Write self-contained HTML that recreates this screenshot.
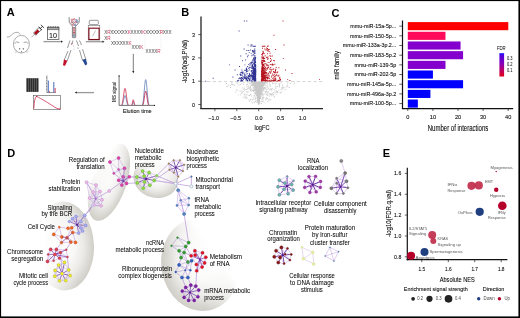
<!DOCTYPE html><html><head><meta charset="utf-8"><style>html,body{margin:0;padding:0;background:#fff;width:520px;height:318px;overflow:hidden}svg{display:block;will-change:transform}text{font-family:"Liberation Sans",sans-serif}</style></head><body>
<svg width="520" height="318" viewBox="0 0 520 318">
<defs><linearGradient id="fdr" x1="0" y1="0" x2="0" y2="1"><stop offset="0" stop-color="#1010ff"/><stop offset="0.1" stop-color="#5000e0"/><stop offset="0.45" stop-color="#8800b8"/><stop offset="0.8" stop-color="#c80050"/><stop offset="1" stop-color="#e00018"/></linearGradient>
<filter id="bl4" x="-50%" y="-50%" width="200%" height="200%"><feGaussianBlur stdDeviation="4"/></filter>
<filter id="bl5" x="-50%" y="-50%" width="200%" height="200%"><feGaussianBlur stdDeviation="5"/></filter>
<filter id="bl6" x="-50%" y="-50%" width="200%" height="200%"><feGaussianBlur stdDeviation="6"/></filter>
<filter id="bl7" x="-50%" y="-50%" width="200%" height="200%"><feGaussianBlur stdDeviation="7"/></filter>
<filter id="bl8" x="-50%" y="-50%" width="200%" height="200%"><feGaussianBlur stdDeviation="8"/></filter>
</defs>
<rect width="520" height="318" fill="#fff"/>
<defs><radialGradient id="rgL" cx="0.5" cy="0.5" r="0.5"><stop offset="0" stop-color="#d0cec7" stop-opacity="0.06"/><stop offset="0.35" stop-color="#d0cec7" stop-opacity="0.16"/><stop offset="0.65" stop-color="#d0cec7" stop-opacity="0.42"/><stop offset="0.88" stop-color="#d0cec7" stop-opacity="0.8"/><stop offset="1" stop-color="#d0cec7" stop-opacity="1"/></radialGradient><linearGradient id="lgL" x1="0.002" y1="0.456" x2="0.998" y2="0.544"><stop offset="0.22" stop-color="#000"/><stop offset="0.7" stop-color="#fff"/></linearGradient><mask id="mkL" maskContentUnits="objectBoundingBox"><rect x="-0.1" y="-0.1" width="1.2" height="1.2" fill="url(#lgL)"/></mask></defs>
<g transform="translate(64 246) rotate(-2)"><ellipse cx="0" cy="0" rx="30" ry="44.5" fill="url(#rgL)" mask="url(#mkL)"/></g>
<defs><radialGradient id="rgU" cx="0.5" cy="0.5" r="0.5"><stop offset="0" stop-color="#d0cec7" stop-opacity="0.1"/><stop offset="0.35" stop-color="#d0cec7" stop-opacity="0.2"/><stop offset="0.65" stop-color="#d0cec7" stop-opacity="0.45"/><stop offset="0.88" stop-color="#d0cec7" stop-opacity="0.82"/><stop offset="1" stop-color="#d0cec7" stop-opacity="1"/></radialGradient><linearGradient id="lgU" x1="0.106" y1="0.192" x2="0.894" y2="0.808"><stop offset="0.15" stop-color="#000"/><stop offset="0.6" stop-color="#fff"/></linearGradient><mask id="mkU" maskContentUnits="objectBoundingBox"><rect x="-0.1" y="-0.1" width="1.2" height="1.2" fill="url(#lgU)"/></mask></defs>
<g transform="translate(108.9 182.1) rotate(19)"><ellipse cx="0" cy="0" rx="17.5" ry="40.5" fill="url(#rgU)" mask="url(#mkU)"/></g>
<defs><radialGradient id="rgN" cx="0.5" cy="0.5" r="0.5"><stop offset="0" stop-color="#d0cec7" stop-opacity="0.08"/><stop offset="0.35" stop-color="#d0cec7" stop-opacity="0.18"/><stop offset="0.65" stop-color="#d0cec7" stop-opacity="0.45"/><stop offset="0.88" stop-color="#d0cec7" stop-opacity="0.82"/><stop offset="1" stop-color="#d0cec7" stop-opacity="1"/></radialGradient><linearGradient id="lgN" x1="0.500" y1="0.000" x2="0.500" y2="1.000"><stop offset="0.1" stop-color="#000"/><stop offset="0.6" stop-color="#fff"/></linearGradient><mask id="mkN" maskContentUnits="objectBoundingBox"><rect x="-0.1" y="-0.1" width="1.2" height="1.2" fill="url(#lgN)"/></mask></defs>
<g transform="translate(155.8 178.7) rotate(15)"><ellipse cx="0" cy="0" rx="22.7" ry="19" fill="url(#rgN)" mask="url(#mkN)"/></g>
<defs><radialGradient id="rgB" cx="0.5" cy="0.5" r="0.5"><stop offset="0" stop-color="#d0cec7" stop-opacity="0.06"/><stop offset="0.35" stop-color="#d0cec7" stop-opacity="0.16"/><stop offset="0.65" stop-color="#d0cec7" stop-opacity="0.45"/><stop offset="0.88" stop-color="#d0cec7" stop-opacity="0.85"/><stop offset="1" stop-color="#d0cec7" stop-opacity="1"/></radialGradient><linearGradient id="lgB" x1="0.933" y1="0.250" x2="0.067" y2="0.750"><stop offset="0.3" stop-color="#000"/><stop offset="0.72" stop-color="#fff"/></linearGradient><mask id="mkB" maskContentUnits="objectBoundingBox"><rect x="-0.1" y="-0.1" width="1.2" height="1.2" fill="url(#lgB)"/></mask></defs>
<g transform="translate(200.5 264.6) rotate(-9.6)"><ellipse cx="0" cy="0" rx="39.2" ry="46.5" fill="url(#rgB)" mask="url(#mkB)"/></g>
<path d="M123.4 180.8L109.2 191M109.2 191L95.6 198.7M95.6 198.7L90 210M90 210L84.7 215.5M92.4 205.5L84.7 215.5M101.1 205.8L92.4 205.5M129.3 176.8L136.9 177M126.5 183.4L137.3 182.9M156.7 175.7L168.8 163.6M154.2 180.4L169.4 169.8M156.7 175.7L175.7 183.7M154.2 180.4L175.7 183.7M175.7 183.7L178.2 190.3M175.7 183.7L191.4 186.4M175.7 183.7L191.4 176.6M191.4 176.6L191.4 186.4M178.2 176.6L175.7 183.7M184.1 213.9L188.6 242.6M77 224.8L71.7 227.8M72.8 232.5L78.7 233M70.8 242.1L66.2 249.8M61.5 242.6L56.4 249.4M59.5 258.2L64.5 262.4M67.4 257L68.7 269.9M60.5 252.5L62 273.7M187.9 262L191.6 260.7M184.1 252.5L191.1 255.7M181.1 257.6L179.1 264.9M187.9 277.5L190.8 285.1M182 277.5L185.7 287.4M196.7 270.8L195.8 286.1M185.7 246.4L191.1 255.7M187.9 262L185.3 270.2" stroke="#9a6ac8" stroke-width="0.5" fill="none"/>
<path d="M129.3 176.8L175.7 183.7" stroke="#c8a8e0" stroke-width="0.4" fill="none"/>
<path d="M123.2 176.8L129.3 176.8M118.7 180.2L126.5 183.4M129.3 176.8L118.7 180.2M123.2 176.8L126.5 183.4M121.8 185.1L126.5 183.4M123.2 176.8L121.8 185.1M129.3 176.8L126.5 183.4M118.7 180.2L121.8 185.1M123.2 176.8L118.7 180.2" stroke="#bd98e0" stroke-width="0.45" fill="none"/>
<path d="M123.4 180.8L123.2 176.8M123.4 180.8L129.3 176.8M123.4 180.8L118.7 180.2M123.4 180.8L121.8 185.1M123.4 180.8L126.5 183.4" stroke="#5e22a0" stroke-width="0.65" fill="none"/>
<circle cx="123.2" cy="176.8" r="2.15" fill="#fff" fill-opacity="0.6"/><circle cx="123.2" cy="176.8" r="1.55" fill="#e8409c" stroke="#9a3aa0" stroke-width="0.5"/>
<circle cx="129.3" cy="176.8" r="2.15" fill="#fff" fill-opacity="0.6"/><circle cx="129.3" cy="176.8" r="1.55" fill="#e8409c" stroke="#9a3aa0" stroke-width="0.5"/>
<circle cx="118.7" cy="180.2" r="2.15" fill="#fff" fill-opacity="0.6"/><circle cx="118.7" cy="180.2" r="1.55" fill="#e8409c" stroke="#9a3aa0" stroke-width="0.5"/>
<circle cx="121.8" cy="185.1" r="2.15" fill="#fff" fill-opacity="0.6"/><circle cx="121.8" cy="185.1" r="1.55" fill="#e8409c" stroke="#9a3aa0" stroke-width="0.5"/>
<circle cx="126.5" cy="183.4" r="2.15" fill="#fff" fill-opacity="0.6"/><circle cx="126.5" cy="183.4" r="1.55" fill="#e8409c" stroke="#9a3aa0" stroke-width="0.5"/>
<circle cx="123.4" cy="180.8" r="0.9" fill="#4a1a8a"/>
<path d="M118.6 158L110 162M124.5 168.3L113.8 173.3M118.6 169.5L113.8 173.3M118.6 158L118.6 169.5M110 162L113.8 173.3M124.5 168.3L118.6 169.5M118.6 158L124.5 168.3M110 162L118.6 169.5" stroke="#bd98e0" stroke-width="0.45" fill="none"/>
<circle cx="118.6" cy="158" r="2.15" fill="#fff" fill-opacity="0.6"/><circle cx="118.6" cy="158" r="1.55" fill="#e8409c" stroke="#9a3aa0" stroke-width="0.5"/>
<circle cx="110" cy="162" r="2.15" fill="#fff" fill-opacity="0.6"/><circle cx="110" cy="162" r="1.55" fill="#e8409c" stroke="#9a3aa0" stroke-width="0.5"/>
<circle cx="124.5" cy="168.3" r="2.15" fill="#fff" fill-opacity="0.6"/><circle cx="124.5" cy="168.3" r="1.55" fill="#e8409c" stroke="#9a3aa0" stroke-width="0.5"/>
<circle cx="118.6" cy="169.5" r="1.60" fill="#fff" fill-opacity="0.6"/><circle cx="118.6" cy="169.5" r="1.0" fill="#e8409c" stroke="#9a3aa0" stroke-width="0.5"/>
<circle cx="113.8" cy="173.3" r="1.70" fill="#fff" fill-opacity="0.6"/><circle cx="113.8" cy="173.3" r="1.1" fill="#e8409c" stroke="#9a3aa0" stroke-width="0.5"/>
<path d="M124.5 168.3L123.2 176.8M118.6 169.5L123.4 180.8M113.8 173.3L123.4 180.8M124.5 168.3L123.4 180.8" stroke="#a070c8" stroke-width="0.45" fill="none"/>
<path d="M86.6 182.2L96 185.1M93 192.1L89.7 198.1M96 185.1L93 192.1M86.6 182.2L89.7 198.1M100 191.5L89.7 198.1M89.7 198.1L94.1 205M102 199.8L101.1 205.8M93 192.1L100 191.5M94.1 205L101.1 205.8M86.6 182.2L93 192.1M102 199.8L94.1 205M96 185.1L100 191.5M89.7 198.1L101.1 205.8M100 191.5L102 199.8" stroke="#bd98e0" stroke-width="0.45" fill="none"/>
<path d="M95.6 198.7L86.6 182.2M95.6 198.7L96 185.1M95.6 198.7L93 192.1M95.6 198.7L100 191.5M95.6 198.7L89.7 198.1M95.6 198.7L102 199.8M95.6 198.7L94.1 205M95.6 198.7L101.1 205.8" stroke="#9a6ac8" stroke-width="0.45" fill="none"/>
<circle cx="86.6" cy="182.2" r="2.15" fill="#fff" fill-opacity="0.6"/><circle cx="86.6" cy="182.2" r="1.55" fill="#f4b8e0" stroke="#b08ad0" stroke-width="0.5"/>
<circle cx="96" cy="185.1" r="2.15" fill="#fff" fill-opacity="0.6"/><circle cx="96" cy="185.1" r="1.55" fill="#f4b8e0" stroke="#b08ad0" stroke-width="0.5"/>
<circle cx="93" cy="192.1" r="2.15" fill="#fff" fill-opacity="0.6"/><circle cx="93" cy="192.1" r="1.55" fill="#f4b8e0" stroke="#b08ad0" stroke-width="0.5"/>
<circle cx="100" cy="191.5" r="2.15" fill="#fff" fill-opacity="0.6"/><circle cx="100" cy="191.5" r="1.55" fill="#f4b8e0" stroke="#b08ad0" stroke-width="0.5"/>
<circle cx="89.7" cy="198.1" r="2.15" fill="#fff" fill-opacity="0.6"/><circle cx="89.7" cy="198.1" r="1.55" fill="#f4b8e0" stroke="#b08ad0" stroke-width="0.5"/>
<circle cx="102" cy="199.8" r="2.15" fill="#fff" fill-opacity="0.6"/><circle cx="102" cy="199.8" r="1.55" fill="#f4b8e0" stroke="#b08ad0" stroke-width="0.5"/>
<circle cx="94.1" cy="205" r="2.15" fill="#fff" fill-opacity="0.6"/><circle cx="94.1" cy="205" r="1.55" fill="#f4b8e0" stroke="#b08ad0" stroke-width="0.5"/>
<circle cx="101.1" cy="205.8" r="2.15" fill="#fff" fill-opacity="0.6"/><circle cx="101.1" cy="205.8" r="1.55" fill="#f4b8e0" stroke="#b08ad0" stroke-width="0.5"/>
<circle cx="95.6" cy="198.7" r="0.9" fill="#9a6ac8"/>
<circle cx="109.2" cy="191" r="2.10" fill="#fff" fill-opacity="0.6"/><circle cx="109.2" cy="191" r="1.5" fill="#f4b8e0" stroke="#b08ad0" stroke-width="0.5"/>
<circle cx="92.4" cy="205.5" r="1.80" fill="#fff" fill-opacity="0.6"/><circle cx="92.4" cy="205.5" r="1.2" fill="#dcd0f4" stroke="#9090d0" stroke-width="0.5"/>
<path d="M76 216.6L72.6 218.8M80.9 221.5L81 228M72.6 218.8L69.3 221.5M76 216.6L84.7 215.5M80.9 221.5L84.7 215.5M85.8 225.4L81 228M82.5 230.9L81 228M76 216.6L80.9 221.5M85.8 225.4L78.7 233M69.3 221.5L80.9 221.5M82.5 230.9L78.7 233M76 216.6L69.3 221.5M84.7 215.5L85.8 225.4M85.8 225.4L82.5 230.9M78.7 233L81 228M72.6 218.8L80.9 221.5M80.9 221.5L85.8 225.4" stroke="#bd98e0" stroke-width="0.45" fill="none"/>
<path d="M77 224.8L76 216.6M77 224.8L72.6 218.8M77 224.8L69.3 221.5M77 224.8L80.9 221.5M77 224.8L84.7 215.5M77 224.8L85.8 225.4M77 224.8L82.5 230.9M77 224.8L78.7 233M77 224.8L81 228" stroke="#5e22a0" stroke-width="0.6" fill="none"/>
<circle cx="76" cy="216.6" r="2.15" fill="#fff" fill-opacity="0.6"/><circle cx="76" cy="216.6" r="1.55" fill="#a8b0f0" stroke="#7070c0" stroke-width="0.5"/>
<circle cx="72.6" cy="218.8" r="2.15" fill="#fff" fill-opacity="0.6"/><circle cx="72.6" cy="218.8" r="1.55" fill="#a8b0f0" stroke="#7070c0" stroke-width="0.5"/>
<circle cx="69.3" cy="221.5" r="1.80" fill="#fff" fill-opacity="0.6"/><circle cx="69.3" cy="221.5" r="1.2" fill="#a8b0f0" stroke="#7070c0" stroke-width="0.5"/>
<circle cx="80.9" cy="221.5" r="2.15" fill="#fff" fill-opacity="0.6"/><circle cx="80.9" cy="221.5" r="1.55" fill="#a8b0f0" stroke="#7070c0" stroke-width="0.5"/>
<circle cx="84.7" cy="215.5" r="2.15" fill="#fff" fill-opacity="0.6"/><circle cx="84.7" cy="215.5" r="1.55" fill="#a8b0f0" stroke="#7070c0" stroke-width="0.5"/>
<circle cx="85.8" cy="225.4" r="2.15" fill="#fff" fill-opacity="0.6"/><circle cx="85.8" cy="225.4" r="1.55" fill="#a8b0f0" stroke="#7070c0" stroke-width="0.5"/>
<circle cx="82.5" cy="230.9" r="2.15" fill="#fff" fill-opacity="0.6"/><circle cx="82.5" cy="230.9" r="1.55" fill="#a8b0f0" stroke="#7070c0" stroke-width="0.5"/>
<circle cx="78.7" cy="233" r="2.15" fill="#fff" fill-opacity="0.6"/><circle cx="78.7" cy="233" r="1.55" fill="#a8b0f0" stroke="#7070c0" stroke-width="0.5"/>
<circle cx="81" cy="228" r="2.15" fill="#fff" fill-opacity="0.6"/><circle cx="81" cy="228" r="1.55" fill="#a8b0f0" stroke="#7070c0" stroke-width="0.5"/>
<circle cx="77" cy="224.8" r="0.9" fill="#4a1a8a"/>
<path d="M59.3 227.2L53.8 234.4M68.1 228.3L72.8 232.5M71.7 227.8L72.8 232.5M53.8 234.4L61.8 236.9M72.8 232.5L75.5 242.4M67 237.7L70.8 242.1M72.8 232.5L67 237.7M61.8 236.9L61.5 242.6M68.1 228.3L71.7 227.8M67 237.7L61.5 242.6M59.3 227.2L68.1 228.3M53.8 234.4L61.5 242.6M70.8 242.1L75.5 242.4M61.8 236.9L67 237.7M59.3 227.2L61.8 236.9M71.7 227.8L67 237.7M67 237.7L75.5 242.4M61.5 242.6L70.8 242.1" stroke="#b080d8" stroke-width="0.45" fill="none"/>
<circle cx="59.3" cy="227.2" r="1.60" fill="#fff" fill-opacity="0.6"/><circle cx="59.3" cy="227.2" r="1.0" fill="#f06a20" stroke="#c05030" stroke-width="0.5"/>
<circle cx="53.8" cy="234.4" r="2.15" fill="#fff" fill-opacity="0.6"/><circle cx="53.8" cy="234.4" r="1.55" fill="#f06a20" stroke="#c05030" stroke-width="0.5"/>
<circle cx="68.1" cy="228.3" r="2.15" fill="#fff" fill-opacity="0.6"/><circle cx="68.1" cy="228.3" r="1.55" fill="#f06a20" stroke="#c05030" stroke-width="0.5"/>
<circle cx="71.7" cy="227.8" r="2.15" fill="#fff" fill-opacity="0.6"/><circle cx="71.7" cy="227.8" r="1.55" fill="#f06a20" stroke="#c05030" stroke-width="0.5"/>
<circle cx="72.8" cy="232.5" r="2.15" fill="#fff" fill-opacity="0.6"/><circle cx="72.8" cy="232.5" r="1.55" fill="#f06a20" stroke="#c05030" stroke-width="0.5"/>
<circle cx="61.8" cy="236.9" r="2.15" fill="#fff" fill-opacity="0.6"/><circle cx="61.8" cy="236.9" r="1.55" fill="#f06a20" stroke="#c05030" stroke-width="0.5"/>
<circle cx="67" cy="237.7" r="2.15" fill="#fff" fill-opacity="0.6"/><circle cx="67" cy="237.7" r="1.55" fill="#f06a20" stroke="#c05030" stroke-width="0.5"/>
<circle cx="61.5" cy="242.6" r="2.00" fill="#fff" fill-opacity="0.6"/><circle cx="61.5" cy="242.6" r="1.4" fill="#f06a20" stroke="#c05030" stroke-width="0.5"/>
<circle cx="70.8" cy="242.1" r="2.15" fill="#fff" fill-opacity="0.6"/><circle cx="70.8" cy="242.1" r="1.55" fill="#f06a20" stroke="#c05030" stroke-width="0.5"/>
<circle cx="75.5" cy="242.4" r="2.15" fill="#fff" fill-opacity="0.6"/><circle cx="75.5" cy="242.4" r="1.55" fill="#f06a20" stroke="#c05030" stroke-width="0.5"/>
<path d="M67 237.7L61.8 236.9M67 237.7L72.8 232.5M67 237.7L70.8 242.1M67 237.7L61.5 242.6" stroke="#6a2aa0" stroke-width="0.5" fill="none"/>
<path d="M50.7 249.4L56.4 249.4M56.4 249.4L60.5 252.5M50.7 249.4L48.2 254.4M60.5 252.5L66.2 249.8M59.5 258.2L53.6 260.7M50.7 249.4L60.5 252.5M60.5 252.5L59.5 258.2M67.4 257L59.5 258.2M48.2 254.4L47.5 261.4M53.6 260.7L47.5 261.4M56.4 249.4L59.5 258.2M50.7 249.4L47.5 261.4M60.5 252.5L67.4 257M56.4 249.4L66.2 249.8M48.2 254.4L53.6 260.7M66.2 249.8L67.4 257" stroke="#bd98e0" stroke-width="0.45" fill="none"/>
<path d="M54.8 254.4L50.7 249.4M54.8 254.4L56.4 249.4M54.8 254.4L60.5 252.5M54.8 254.4L66.2 249.8M54.8 254.4L48.2 254.4M54.8 254.4L67.4 257M54.8 254.4L59.5 258.2M54.8 254.4L53.6 260.7M54.8 254.4L47.5 261.4" stroke="#5e22a0" stroke-width="0.65" fill="none"/>
<circle cx="50.7" cy="249.4" r="2.15" fill="#fff" fill-opacity="0.6"/><circle cx="50.7" cy="249.4" r="1.55" fill="#e04048" stroke="#a03060" stroke-width="0.5"/>
<circle cx="56.4" cy="249.4" r="2.15" fill="#fff" fill-opacity="0.6"/><circle cx="56.4" cy="249.4" r="1.55" fill="#e04048" stroke="#a03060" stroke-width="0.5"/>
<circle cx="60.5" cy="252.5" r="2.10" fill="#fff" fill-opacity="0.6"/><circle cx="60.5" cy="252.5" r="1.5" fill="#e04048" stroke="#a03060" stroke-width="0.5"/>
<circle cx="66.2" cy="249.8" r="1.60" fill="#fff" fill-opacity="0.6"/><circle cx="66.2" cy="249.8" r="1.0" fill="#e04048" stroke="#a03060" stroke-width="0.5"/>
<circle cx="48.2" cy="254.4" r="1.60" fill="#fff" fill-opacity="0.6"/><circle cx="48.2" cy="254.4" r="1.0" fill="#e04048" stroke="#a03060" stroke-width="0.5"/>
<circle cx="67.4" cy="257" r="1.60" fill="#fff" fill-opacity="0.6"/><circle cx="67.4" cy="257" r="1.0" fill="#e04048" stroke="#a03060" stroke-width="0.5"/>
<circle cx="59.5" cy="258.2" r="2.00" fill="#fff" fill-opacity="0.6"/><circle cx="59.5" cy="258.2" r="1.4" fill="#e04048" stroke="#a03060" stroke-width="0.5"/>
<circle cx="53.6" cy="260.7" r="1.60" fill="#fff" fill-opacity="0.6"/><circle cx="53.6" cy="260.7" r="1.0" fill="#e04048" stroke="#a03060" stroke-width="0.5"/>
<circle cx="47.5" cy="261.4" r="2.15" fill="#fff" fill-opacity="0.6"/><circle cx="47.5" cy="261.4" r="1.55" fill="#e04048" stroke="#a03060" stroke-width="0.5"/>
<circle cx="54.8" cy="254.4" r="1.6" fill="#e04048"/>
<path d="M64.5 262.4L58.6 265.1M55.1 270.4L54.8 276.2M58.6 265.1L55.1 270.4M68.7 269.9L65.8 280.5M64.5 262.4L68.7 269.9M54.8 276.2L59.5 280.8M58.6 265.1L54.8 276.2M70.2 275.6L65.8 280.5M59.5 280.8L65.8 280.5M64.5 262.4L55.1 270.4M55.1 270.4L59.5 280.8M70.2 275.6L59.5 280.8M58.6 265.1L68.7 269.9M68.7 269.9L70.2 275.6" stroke="#bd98e0" stroke-width="0.45" fill="none"/>
<path d="M62 273.7L64.5 262.4M62 273.7L58.6 265.1M62 273.7L55.1 270.4M62 273.7L68.7 269.9M62 273.7L54.8 276.2M62 273.7L70.2 275.6M62 273.7L59.5 280.8M62 273.7L65.8 280.5" stroke="#5e22a0" stroke-width="0.65" fill="none"/>
<circle cx="64.5" cy="262.4" r="2.15" fill="#fff" fill-opacity="0.6"/><circle cx="64.5" cy="262.4" r="1.55" fill="#f2f022" stroke="#a0a040" stroke-width="0.5"/>
<circle cx="58.6" cy="265.1" r="2.15" fill="#fff" fill-opacity="0.6"/><circle cx="58.6" cy="265.1" r="1.55" fill="#f2f022" stroke="#a0a040" stroke-width="0.5"/>
<circle cx="55.1" cy="270.4" r="2.15" fill="#fff" fill-opacity="0.6"/><circle cx="55.1" cy="270.4" r="1.55" fill="#f2f022" stroke="#a0a040" stroke-width="0.5"/>
<circle cx="68.7" cy="269.9" r="2.15" fill="#fff" fill-opacity="0.6"/><circle cx="68.7" cy="269.9" r="1.55" fill="#f2f022" stroke="#a0a040" stroke-width="0.5"/>
<circle cx="54.8" cy="276.2" r="2.15" fill="#fff" fill-opacity="0.6"/><circle cx="54.8" cy="276.2" r="1.55" fill="#f2f022" stroke="#a0a040" stroke-width="0.5"/>
<circle cx="70.2" cy="275.6" r="2.15" fill="#fff" fill-opacity="0.6"/><circle cx="70.2" cy="275.6" r="1.55" fill="#f2f022" stroke="#a0a040" stroke-width="0.5"/>
<circle cx="59.5" cy="280.8" r="2.15" fill="#fff" fill-opacity="0.6"/><circle cx="59.5" cy="280.8" r="1.55" fill="#f2f022" stroke="#a0a040" stroke-width="0.5"/>
<circle cx="65.8" cy="280.5" r="2.15" fill="#fff" fill-opacity="0.6"/><circle cx="65.8" cy="280.5" r="1.55" fill="#f2f022" stroke="#a0a040" stroke-width="0.5"/>
<circle cx="62" cy="273.7" r="1.6" fill="#f2f022"/>
<path d="M142.6 171.1L149.1 172.6M144.5 182L143.2 188.3M144.5 182L149.9 185.2M142.6 171.1L144.1 176.1M149.1 172.6L156.7 175.7M136.9 177L144.1 176.1M142.6 171.1L136.9 177M149.1 172.6L154.2 180.4M149.9 185.2L143.2 188.3M137.3 182.9L144.5 182M156.7 175.7L149.9 185.2M144.1 176.1L144.5 182M137.3 182.9L143.2 188.3M136.9 177L137.3 182.9M149.1 172.6L144.1 176.1M156.7 175.7L154.2 180.4M154.2 180.4L149.9 185.2" stroke="#bd98e0" stroke-width="0.45" fill="none"/>
<path d="M146.1 178.9L142.6 171.1M146.1 178.9L149.1 172.6M146.1 178.9L136.9 177M146.1 178.9L144.1 176.1M146.1 178.9L156.7 175.7M146.1 178.9L137.3 182.9M146.1 178.9L144.5 182M146.1 178.9L154.2 180.4M146.1 178.9L149.9 185.2M146.1 178.9L143.2 188.3" stroke="#5e22a0" stroke-width="0.65" fill="none"/>
<circle cx="142.6" cy="171.1" r="2.15" fill="#fff" fill-opacity="0.6"/><circle cx="142.6" cy="171.1" r="1.55" fill="#90e040" stroke="#5a9a30" stroke-width="0.5"/>
<circle cx="149.1" cy="172.6" r="2.15" fill="#fff" fill-opacity="0.6"/><circle cx="149.1" cy="172.6" r="1.55" fill="#90e040" stroke="#5a9a30" stroke-width="0.5"/>
<circle cx="136.9" cy="177" r="2.15" fill="#fff" fill-opacity="0.6"/><circle cx="136.9" cy="177" r="1.55" fill="#90e040" stroke="#5a9a30" stroke-width="0.5"/>
<circle cx="144.1" cy="176.1" r="2.15" fill="#fff" fill-opacity="0.6"/><circle cx="144.1" cy="176.1" r="1.55" fill="#90e040" stroke="#5a9a30" stroke-width="0.5"/>
<circle cx="156.7" cy="175.7" r="1.70" fill="#fff" fill-opacity="0.6"/><circle cx="156.7" cy="175.7" r="1.1" fill="#90e040" stroke="#5a9a30" stroke-width="0.5"/>
<circle cx="137.3" cy="182.9" r="2.15" fill="#fff" fill-opacity="0.6"/><circle cx="137.3" cy="182.9" r="1.55" fill="#90e040" stroke="#5a9a30" stroke-width="0.5"/>
<circle cx="144.5" cy="182" r="2.15" fill="#fff" fill-opacity="0.6"/><circle cx="144.5" cy="182" r="1.55" fill="#90e040" stroke="#5a9a30" stroke-width="0.5"/>
<circle cx="154.2" cy="180.4" r="2.15" fill="#fff" fill-opacity="0.6"/><circle cx="154.2" cy="180.4" r="1.55" fill="#90e040" stroke="#5a9a30" stroke-width="0.5"/>
<circle cx="149.9" cy="185.2" r="2.15" fill="#fff" fill-opacity="0.6"/><circle cx="149.9" cy="185.2" r="1.55" fill="#90e040" stroke="#5a9a30" stroke-width="0.5"/>
<circle cx="143.2" cy="188.3" r="2.15" fill="#fff" fill-opacity="0.6"/><circle cx="143.2" cy="188.3" r="1.55" fill="#90e040" stroke="#5a9a30" stroke-width="0.5"/>
<circle cx="146.1" cy="178.9" r="0.9" fill="#4a1a8a"/>
<path d="M173.6 160.3L179.9 160.3M168.8 163.6L169.4 169.8M173.6 160.3L169.4 169.8M168.8 163.6L173.8 172.6M179.9 160.3L182.9 171.1M173.6 160.3L184.2 164.8M169.4 169.8L178.2 176.6M182.9 171.1L173.8 172.6M178.2 176.6L173.8 172.6M173.6 160.3L168.8 163.6M182.9 171.1L178.2 176.6M179.9 160.3L184.2 164.8M169.4 169.8L173.8 172.6M184.2 164.8L182.9 171.1" stroke="#bd98e0" stroke-width="0.45" fill="none"/>
<path d="M175.7 167.6L173.6 160.3M175.7 167.6L179.9 160.3M175.7 167.6L168.8 163.6M175.7 167.6L184.2 164.8M175.7 167.6L169.4 169.8M175.7 167.6L182.9 171.1M175.7 167.6L178.2 176.6M175.7 167.6L173.8 172.6" stroke="#5a2a9a" stroke-width="0.75" fill="none"/>
<circle cx="173.6" cy="160.3" r="1.40" fill="#fff" fill-opacity="0.6"/><circle cx="173.6" cy="160.3" r="0.8" fill="#b09060" stroke="#806040" stroke-width="0.5"/>
<circle cx="179.9" cy="160.3" r="1.40" fill="#fff" fill-opacity="0.6"/><circle cx="179.9" cy="160.3" r="0.8" fill="#b09060" stroke="#806040" stroke-width="0.5"/>
<circle cx="168.8" cy="163.6" r="1.40" fill="#fff" fill-opacity="0.6"/><circle cx="168.8" cy="163.6" r="0.8" fill="#b09060" stroke="#806040" stroke-width="0.5"/>
<circle cx="184.2" cy="164.8" r="1.40" fill="#fff" fill-opacity="0.6"/><circle cx="184.2" cy="164.8" r="0.8" fill="#b09060" stroke="#806040" stroke-width="0.5"/>
<circle cx="169.4" cy="169.8" r="1.40" fill="#fff" fill-opacity="0.6"/><circle cx="169.4" cy="169.8" r="0.8" fill="#b09060" stroke="#806040" stroke-width="0.5"/>
<circle cx="182.9" cy="171.1" r="1.40" fill="#fff" fill-opacity="0.6"/><circle cx="182.9" cy="171.1" r="0.8" fill="#b09060" stroke="#806040" stroke-width="0.5"/>
<circle cx="178.2" cy="176.6" r="1.40" fill="#fff" fill-opacity="0.6"/><circle cx="178.2" cy="176.6" r="0.8" fill="#b09060" stroke="#806040" stroke-width="0.5"/>
<circle cx="173.8" cy="172.6" r="1.40" fill="#fff" fill-opacity="0.6"/><circle cx="173.8" cy="172.6" r="0.8" fill="#b09060" stroke="#806040" stroke-width="0.5"/>
<circle cx="175.7" cy="167.6" r="0.9" fill="#4a1a8a"/>
<circle cx="175.7" cy="183.7" r="2.10" fill="#fff" fill-opacity="0.6"/><circle cx="175.7" cy="183.7" r="1.5" fill="#fff" stroke="#7090b0" stroke-width="0.5"/>
<circle cx="191.4" cy="186.4" r="2.10" fill="#fff" fill-opacity="0.6"/><circle cx="191.4" cy="186.4" r="1.5" fill="#fff" stroke="#7090b0" stroke-width="0.5"/>
<circle cx="191.4" cy="176.6" r="1.40" fill="#fff" fill-opacity="0.6"/><circle cx="191.4" cy="176.6" r="0.8" fill="#6090c8" stroke="#406090" stroke-width="0.5"/>
<path d="M178.2 190.3L188.9 198.2M180.7 200.3L188.6 205.1M188.9 198.2L180.7 200.3M177 205.4L188.6 205.1M178.2 190.3L177 205.4M188.9 198.2L188.6 205.1M180.7 200.3L177 205.4M178.2 190.3L180.7 200.3M188.6 205.1L184.1 213.9M180.7 200.3L184.1 213.9M177 205.4L184.1 213.9" stroke="#b890e0" stroke-width="0.45" fill="none"/>
<circle cx="178.2" cy="190.3" r="2.15" fill="#fff" fill-opacity="0.6"/><circle cx="178.2" cy="190.3" r="1.55" fill="#4a80c0" stroke="#30609a" stroke-width="0.5"/>
<circle cx="188.9" cy="198.2" r="1.60" fill="#fff" fill-opacity="0.6"/><circle cx="188.9" cy="198.2" r="1" fill="#4a80c0" stroke="#30609a" stroke-width="0.5"/>
<circle cx="180.7" cy="200.3" r="1.60" fill="#fff" fill-opacity="0.6"/><circle cx="180.7" cy="200.3" r="1" fill="#4a80c0" stroke="#30609a" stroke-width="0.5"/>
<circle cx="177" cy="205.4" r="1.60" fill="#fff" fill-opacity="0.6"/><circle cx="177" cy="205.4" r="1" fill="#4a80c0" stroke="#30609a" stroke-width="0.5"/>
<circle cx="188.6" cy="205.1" r="1.60" fill="#fff" fill-opacity="0.6"/><circle cx="188.6" cy="205.1" r="1" fill="#4a80c0" stroke="#30609a" stroke-width="0.5"/>
<circle cx="184.1" cy="213.9" r="2.15" fill="#fff" fill-opacity="0.6"/><circle cx="184.1" cy="213.9" r="1.55" fill="#4a80c0" stroke="#30609a" stroke-width="0.5"/>
<path d="M178.2 190.3L188.6 205.1M178.2 190.3L184.1 213.9M177 205.4L188.9 198.2M180.7 200.3L184.1 213.9" stroke="#b890e0" stroke-width="0.35" fill="none"/>
<path d="M177.5 237.6L171.5 245.8M185.7 246.4L179.1 250.8M177.5 237.6L185.7 246.4M179.1 250.8L181.1 257.6M171.5 245.8L179.1 250.8M184.1 252.5L187.9 262M188.6 242.6L185.7 246.4M181.1 257.6L187.9 262M177.5 237.6L188.6 242.6M179.1 250.8L184.1 252.5M184.1 252.5L181.1 257.6M188.6 242.6L184.1 252.5M171.5 245.8L185.7 246.4M179.1 250.8L187.9 262M185.7 246.4L184.1 252.5" stroke="#a080d0" stroke-width="0.45" fill="none"/>
<circle cx="177.5" cy="237.6" r="1.50" fill="#fff" fill-opacity="0.6"/><circle cx="177.5" cy="237.6" r="0.9" fill="#30a030" stroke="#207020" stroke-width="0.5"/>
<circle cx="171.5" cy="245.8" r="1.50" fill="#fff" fill-opacity="0.6"/><circle cx="171.5" cy="245.8" r="0.9" fill="#30a030" stroke="#207020" stroke-width="0.5"/>
<circle cx="188.6" cy="242.6" r="2.15" fill="#fff" fill-opacity="0.6"/><circle cx="188.6" cy="242.6" r="1.55" fill="#30a030" stroke="#207020" stroke-width="0.5"/>
<circle cx="185.7" cy="246.4" r="2.10" fill="#fff" fill-opacity="0.6"/><circle cx="185.7" cy="246.4" r="1.5" fill="#30a030" stroke="#207020" stroke-width="0.5"/>
<circle cx="179.1" cy="250.8" r="2.15" fill="#fff" fill-opacity="0.6"/><circle cx="179.1" cy="250.8" r="1.55" fill="#30a030" stroke="#207020" stroke-width="0.5"/>
<circle cx="184.1" cy="252.5" r="2.15" fill="#fff" fill-opacity="0.6"/><circle cx="184.1" cy="252.5" r="1.55" fill="#30a030" stroke="#207020" stroke-width="0.5"/>
<circle cx="181.1" cy="257.6" r="2.15" fill="#fff" fill-opacity="0.6"/><circle cx="181.1" cy="257.6" r="1.55" fill="#30a030" stroke="#207020" stroke-width="0.5"/>
<circle cx="187.9" cy="262" r="2.15" fill="#fff" fill-opacity="0.6"/><circle cx="187.9" cy="262" r="1.55" fill="#30a030" stroke="#207020" stroke-width="0.5"/>
<path d="M191.6 260.7L179.1 264.9M175.7 272L182 277.5M179.1 264.9L175.7 272M191.6 260.7L190.4 270.2M182 277.5L185.3 270.2M191.6 260.7L185.3 270.2M182 277.5L187.9 277.5M175.7 272L185.3 270.2M187.9 277.5L185.3 270.2M190.4 270.2L185.3 270.2M179.1 264.9L185.3 270.2M179.1 264.9L190.4 270.2M190.4 270.2L187.9 277.5" stroke="#a080d0" stroke-width="0.45" fill="none"/>
<circle cx="191.6" cy="260.7" r="2.15" fill="#fff" fill-opacity="0.6"/><circle cx="191.6" cy="260.7" r="1.55" fill="#3060c0" stroke="#204890" stroke-width="0.5"/>
<circle cx="179.1" cy="264.9" r="2.15" fill="#fff" fill-opacity="0.6"/><circle cx="179.1" cy="264.9" r="1.55" fill="#3060c0" stroke="#204890" stroke-width="0.5"/>
<circle cx="175.7" cy="272" r="1.50" fill="#fff" fill-opacity="0.6"/><circle cx="175.7" cy="272" r="0.9" fill="#3060c0" stroke="#204890" stroke-width="0.5"/>
<circle cx="190.4" cy="270.2" r="1.60" fill="#fff" fill-opacity="0.6"/><circle cx="190.4" cy="270.2" r="1" fill="#3060c0" stroke="#204890" stroke-width="0.5"/>
<circle cx="182" cy="277.5" r="2.15" fill="#fff" fill-opacity="0.6"/><circle cx="182" cy="277.5" r="1.55" fill="#3060c0" stroke="#204890" stroke-width="0.5"/>
<circle cx="187.9" cy="277.5" r="2.15" fill="#fff" fill-opacity="0.6"/><circle cx="187.9" cy="277.5" r="1.55" fill="#3060c0" stroke="#204890" stroke-width="0.5"/>
<circle cx="185.3" cy="270.2" r="1.40" fill="#fff" fill-opacity="0.6"/><circle cx="185.3" cy="270.2" r="0.8" fill="#3060c0" stroke="#204890" stroke-width="0.5"/>
<path d="M194.9 250.7L202.5 252.8M204.6 262.9L196.7 270.8M196.4 264.5L196.7 270.8M194.9 250.7L195.2 255.1M202.5 252.8L205.8 257.3M204.6 262.9L202.1 267M191.1 255.7L195.2 255.1M196.4 264.5L202.1 267M194.9 250.7L191.1 255.7M205.8 257.3L204.6 262.9M191.1 255.7L196.4 264.5M204.6 262.9L196.4 264.5M202.5 252.8L195.2 255.1M205.8 257.3L202.1 267M202.1 267L196.7 270.8" stroke="#bd98e0" stroke-width="0.45" fill="none"/>
<path d="M200 259.5L194.9 250.7M200 259.5L202.5 252.8M200 259.5L191.1 255.7M200 259.5L195.2 255.1M200 259.5L205.8 257.3M200 259.5L204.6 262.9M200 259.5L196.4 264.5M200 259.5L202.1 267M200 259.5L196.7 270.8" stroke="#5e22a0" stroke-width="0.65" fill="none"/>
<circle cx="194.9" cy="250.7" r="2.15" fill="#fff" fill-opacity="0.6"/><circle cx="194.9" cy="250.7" r="1.55" fill="#e81020" stroke="#a02040" stroke-width="0.5"/>
<circle cx="202.5" cy="252.8" r="2.15" fill="#fff" fill-opacity="0.6"/><circle cx="202.5" cy="252.8" r="1.55" fill="#e81020" stroke="#a02040" stroke-width="0.5"/>
<circle cx="191.1" cy="255.7" r="2.15" fill="#fff" fill-opacity="0.6"/><circle cx="191.1" cy="255.7" r="1.55" fill="#e81020" stroke="#a02040" stroke-width="0.5"/>
<circle cx="195.2" cy="255.1" r="2.15" fill="#fff" fill-opacity="0.6"/><circle cx="195.2" cy="255.1" r="1.55" fill="#e81020" stroke="#a02040" stroke-width="0.5"/>
<circle cx="205.8" cy="257.3" r="2.15" fill="#fff" fill-opacity="0.6"/><circle cx="205.8" cy="257.3" r="1.55" fill="#e81020" stroke="#a02040" stroke-width="0.5"/>
<circle cx="204.6" cy="262.9" r="2.15" fill="#fff" fill-opacity="0.6"/><circle cx="204.6" cy="262.9" r="1.55" fill="#e81020" stroke="#a02040" stroke-width="0.5"/>
<circle cx="196.4" cy="264.5" r="2.15" fill="#fff" fill-opacity="0.6"/><circle cx="196.4" cy="264.5" r="1.55" fill="#e81020" stroke="#a02040" stroke-width="0.5"/>
<circle cx="202.1" cy="267" r="2.15" fill="#fff" fill-opacity="0.6"/><circle cx="202.1" cy="267" r="1.55" fill="#e81020" stroke="#a02040" stroke-width="0.5"/>
<circle cx="196.7" cy="270.8" r="2.15" fill="#fff" fill-opacity="0.6"/><circle cx="196.7" cy="270.8" r="1.55" fill="#e81020" stroke="#a02040" stroke-width="0.5"/>
<circle cx="200" cy="259.5" r="0.9" fill="#6a2aa0"/>
<path d="M185.7 287.4L190.8 285.1M195.8 286.1L198.7 290.1M190.8 285.1L195.8 286.1M184.1 297.4L194.2 300.4M197.9 296.7L194.2 300.4M185.7 287.4L182.3 291.1M198.7 290.1L197.9 296.7M190.8 285.1L198.7 290.1M184.1 297.4L188.6 300.4M197.9 296.7L188.6 300.4M185.7 287.4L195.8 286.1M185.7 287.4L184.1 297.4M188.6 300.4L194.2 300.4M190.8 285.1L182.3 291.1M182.3 291.1L184.1 297.4" stroke="#bd98e0" stroke-width="0.45" fill="none"/>
<path d="M189.9 292.4L185.7 287.4M189.9 292.4L190.8 285.1M189.9 292.4L195.8 286.1M189.9 292.4L182.3 291.1M189.9 292.4L198.7 290.1M189.9 292.4L184.1 297.4M189.9 292.4L197.9 296.7M189.9 292.4L188.6 300.4M189.9 292.4L194.2 300.4" stroke="#5e22a0" stroke-width="0.65" fill="none"/>
<circle cx="185.7" cy="287.4" r="2.15" fill="#fff" fill-opacity="0.6"/><circle cx="185.7" cy="287.4" r="1.55" fill="#8020a8" stroke="#601880" stroke-width="0.5"/>
<circle cx="190.8" cy="285.1" r="2.15" fill="#fff" fill-opacity="0.6"/><circle cx="190.8" cy="285.1" r="1.55" fill="#8020a8" stroke="#601880" stroke-width="0.5"/>
<circle cx="195.8" cy="286.1" r="2.15" fill="#fff" fill-opacity="0.6"/><circle cx="195.8" cy="286.1" r="1.55" fill="#8020a8" stroke="#601880" stroke-width="0.5"/>
<circle cx="182.3" cy="291.1" r="2.15" fill="#fff" fill-opacity="0.6"/><circle cx="182.3" cy="291.1" r="1.55" fill="#8020a8" stroke="#601880" stroke-width="0.5"/>
<circle cx="198.7" cy="290.1" r="2.15" fill="#fff" fill-opacity="0.6"/><circle cx="198.7" cy="290.1" r="1.55" fill="#8020a8" stroke="#601880" stroke-width="0.5"/>
<circle cx="184.1" cy="297.4" r="2.15" fill="#fff" fill-opacity="0.6"/><circle cx="184.1" cy="297.4" r="1.55" fill="#8020a8" stroke="#601880" stroke-width="0.5"/>
<circle cx="197.9" cy="296.7" r="2.15" fill="#fff" fill-opacity="0.6"/><circle cx="197.9" cy="296.7" r="1.55" fill="#8020a8" stroke="#601880" stroke-width="0.5"/>
<circle cx="188.6" cy="300.4" r="2.15" fill="#fff" fill-opacity="0.6"/><circle cx="188.6" cy="300.4" r="1.55" fill="#8020a8" stroke="#601880" stroke-width="0.5"/>
<circle cx="194.2" cy="300.4" r="2.15" fill="#fff" fill-opacity="0.6"/><circle cx="194.2" cy="300.4" r="1.55" fill="#8020a8" stroke="#601880" stroke-width="0.5"/>
<circle cx="189.9" cy="292.4" r="0.9" fill="#5a1a8a"/>
<path d="M287.2 176.4L279.4 180.2M284.9 183L291.7 184.4M279.4 180.2L284.9 183M293.6 180.7L291.7 184.4M279.4 180.2L278 186.8M278 186.8L279.4 194.8M284 189.2L279.4 194.8M287.2 176.4L293.6 180.7M284.9 183L293.6 180.7M293.1 190.1L288.1 193.7M287.2 176.4L284.9 183M284 189.2L293.1 190.1M284.9 183L284 189.2M278 186.8L284 189.2M279.4 194.8L288.1 193.7M284.9 183L278 186.8M284 189.2L288.1 193.7M291.7 184.4L293.1 190.1" stroke="#bd98e0" stroke-width="0.45" fill="none"/>
<path d="M287 186.1L287.2 176.4M287 186.1L279.4 180.2M287 186.1L284.9 183M287 186.1L293.6 180.7M287 186.1L291.7 184.4M287 186.1L278 186.8M287 186.1L284 189.2M287 186.1L293.1 190.1M287 186.1L279.4 194.8M287 186.1L288.1 193.7" stroke="#5a1a9a" stroke-width="0.8" fill="none"/>
<circle cx="287.2" cy="176.4" r="1.50" fill="#fff" fill-opacity="0.6"/><circle cx="287.2" cy="176.4" r="0.9" fill="#60c8a0" stroke="#6a5aa0" stroke-width="0.5"/>
<circle cx="279.4" cy="180.2" r="2.10" fill="#fff" fill-opacity="0.6"/><circle cx="279.4" cy="180.2" r="1.5" fill="#60c8a0" stroke="#6a5aa0" stroke-width="0.5"/>
<circle cx="284.9" cy="183" r="2.10" fill="#fff" fill-opacity="0.6"/><circle cx="284.9" cy="183" r="1.5" fill="#60c8a0" stroke="#6a5aa0" stroke-width="0.5"/>
<circle cx="293.6" cy="180.7" r="1.50" fill="#fff" fill-opacity="0.6"/><circle cx="293.6" cy="180.7" r="0.9" fill="#60c8a0" stroke="#6a5aa0" stroke-width="0.5"/>
<circle cx="291.7" cy="184.4" r="2.10" fill="#fff" fill-opacity="0.6"/><circle cx="291.7" cy="184.4" r="1.5" fill="#60c8a0" stroke="#6a5aa0" stroke-width="0.5"/>
<circle cx="278" cy="186.8" r="2.10" fill="#fff" fill-opacity="0.6"/><circle cx="278" cy="186.8" r="1.5" fill="#60c8a0" stroke="#6a5aa0" stroke-width="0.5"/>
<circle cx="284" cy="189.2" r="2.10" fill="#fff" fill-opacity="0.6"/><circle cx="284" cy="189.2" r="1.5" fill="#60c8a0" stroke="#6a5aa0" stroke-width="0.5"/>
<circle cx="293.1" cy="190.1" r="2.10" fill="#fff" fill-opacity="0.6"/><circle cx="293.1" cy="190.1" r="1.5" fill="#60c8a0" stroke="#6a5aa0" stroke-width="0.5"/>
<circle cx="279.4" cy="194.8" r="2.10" fill="#fff" fill-opacity="0.6"/><circle cx="279.4" cy="194.8" r="1.5" fill="#60c8a0" stroke="#6a5aa0" stroke-width="0.5"/>
<circle cx="288.1" cy="193.7" r="2.10" fill="#fff" fill-opacity="0.6"/><circle cx="288.1" cy="193.7" r="1.5" fill="#60c8a0" stroke="#6a5aa0" stroke-width="0.5"/>
<circle cx="287" cy="186.1" r="0.9" fill="#4a1a8a"/>
<path d="M309 176.6L315.6 176.4M305.2 181.1L304.7 187.5M320.6 181.5L310.8 186.5M320.3 187.5L310.8 186.5M309.9 192.5L310.8 186.5M315.6 176.4L310.8 186.5M304.7 187.5L309.9 192.5M320.3 187.5L316.2 191.9M309.9 192.5L316.2 191.9M309 176.6L305.2 181.1M304.7 187.5L310.8 186.5M316.2 191.9L310.8 186.5M309 176.6L310.8 186.5M315.6 176.4L320.6 181.5M320.6 181.5L320.3 187.5M305.2 181.1L310.8 186.5" stroke="#bd98e0" stroke-width="0.45" fill="none"/>
<path d="M312.7 184.6L309 176.6M312.7 184.6L315.6 176.4M312.7 184.6L305.2 181.1M312.7 184.6L320.6 181.5M312.7 184.6L304.7 187.5M312.7 184.6L320.3 187.5M312.7 184.6L309.9 192.5M312.7 184.6L316.2 191.9M312.7 184.6L310.8 186.5" stroke="#5a1a9a" stroke-width="0.85" fill="none"/>
<circle cx="309" cy="176.6" r="2.00" fill="#fff" fill-opacity="0.6"/><circle cx="309" cy="176.6" r="1.4" fill="#a838a8" stroke="#7a2a8a" stroke-width="0.5"/>
<circle cx="315.6" cy="176.4" r="2.00" fill="#fff" fill-opacity="0.6"/><circle cx="315.6" cy="176.4" r="1.4" fill="#a838a8" stroke="#7a2a8a" stroke-width="0.5"/>
<circle cx="305.2" cy="181.1" r="2.00" fill="#fff" fill-opacity="0.6"/><circle cx="305.2" cy="181.1" r="1.4" fill="#a838a8" stroke="#7a2a8a" stroke-width="0.5"/>
<circle cx="320.6" cy="181.5" r="2.00" fill="#fff" fill-opacity="0.6"/><circle cx="320.6" cy="181.5" r="1.4" fill="#a838a8" stroke="#7a2a8a" stroke-width="0.5"/>
<circle cx="304.7" cy="187.5" r="2.00" fill="#fff" fill-opacity="0.6"/><circle cx="304.7" cy="187.5" r="1.4" fill="#a838a8" stroke="#7a2a8a" stroke-width="0.5"/>
<circle cx="320.3" cy="187.5" r="2.00" fill="#fff" fill-opacity="0.6"/><circle cx="320.3" cy="187.5" r="1.4" fill="#a838a8" stroke="#7a2a8a" stroke-width="0.5"/>
<circle cx="309.9" cy="192.5" r="2.00" fill="#fff" fill-opacity="0.6"/><circle cx="309.9" cy="192.5" r="1.4" fill="#a838a8" stroke="#7a2a8a" stroke-width="0.5"/>
<circle cx="316.2" cy="191.9" r="2.00" fill="#fff" fill-opacity="0.6"/><circle cx="316.2" cy="191.9" r="1.4" fill="#a838a8" stroke="#7a2a8a" stroke-width="0.5"/>
<circle cx="310.8" cy="186.5" r="1.50" fill="#fff" fill-opacity="0.6"/><circle cx="310.8" cy="186.5" r="0.9" fill="#a838a8" stroke="#7a2a8a" stroke-width="0.5"/>
<circle cx="312.7" cy="184.6" r="0.9" fill="#4a1a8a"/>
<path d="M341.3 160.9L345.1 173.1" stroke="#c0a0d8" stroke-width="0.5" fill="none"/>
<path d="M345.1 173.1L336.6 178.3M336.6 178.3L346.5 181.2M336.6 183.3L331.4 188.2M336.6 183.3L343.4 193.5M345.1 173.1L336.6 183.3M331.4 188.2L336.6 193.5M336.6 178.3L331.4 188.2M347.9 187.8L343.4 193.5M346.5 181.2L336.6 183.3M336.6 193.5L343.4 193.5M345.1 173.1L346.5 181.2M336.6 183.3L336.6 193.5M346.5 181.2L347.9 187.8M336.6 178.3L336.6 183.3M336.6 183.3L347.9 187.8" stroke="#bd98e0" stroke-width="0.45" fill="none"/>
<path d="M340.6 186.8L345.1 173.1M340.6 186.8L336.6 178.3M340.6 186.8L346.5 181.2M340.6 186.8L336.6 183.3M340.6 186.8L331.4 188.2M340.6 186.8L347.9 187.8M340.6 186.8L336.6 193.5M340.6 186.8L343.4 193.5" stroke="#5a1a9a" stroke-width="0.8" fill="none"/>
<circle cx="345.1" cy="173.1" r="2.10" fill="#fff" fill-opacity="0.6"/><circle cx="345.1" cy="173.1" r="1.5" fill="#7a7a7a" stroke="#505050" stroke-width="0.5"/>
<circle cx="336.6" cy="178.3" r="1.60" fill="#fff" fill-opacity="0.6"/><circle cx="336.6" cy="178.3" r="1" fill="#7a7a7a" stroke="#505050" stroke-width="0.5"/>
<circle cx="346.5" cy="181.2" r="2.10" fill="#fff" fill-opacity="0.6"/><circle cx="346.5" cy="181.2" r="1.5" fill="#7a7a7a" stroke="#505050" stroke-width="0.5"/>
<circle cx="336.6" cy="183.3" r="1.60" fill="#fff" fill-opacity="0.6"/><circle cx="336.6" cy="183.3" r="1" fill="#7a7a7a" stroke="#505050" stroke-width="0.5"/>
<circle cx="331.4" cy="188.2" r="2.10" fill="#fff" fill-opacity="0.6"/><circle cx="331.4" cy="188.2" r="1.5" fill="#7a7a7a" stroke="#505050" stroke-width="0.5"/>
<circle cx="347.9" cy="187.8" r="1.60" fill="#fff" fill-opacity="0.6"/><circle cx="347.9" cy="187.8" r="1" fill="#7a7a7a" stroke="#505050" stroke-width="0.5"/>
<circle cx="336.6" cy="193.5" r="1.60" fill="#fff" fill-opacity="0.6"/><circle cx="336.6" cy="193.5" r="1" fill="#7a7a7a" stroke="#505050" stroke-width="0.5"/>
<circle cx="343.4" cy="193.5" r="1.60" fill="#fff" fill-opacity="0.6"/><circle cx="343.4" cy="193.5" r="1" fill="#7a7a7a" stroke="#505050" stroke-width="0.5"/>
<circle cx="340.6" cy="186.8" r="0.9" fill="#4a1a8a"/>
<circle cx="341.3" cy="160.9" r="2.10" fill="#fff" fill-opacity="0.6"/><circle cx="341.3" cy="160.9" r="1.5" fill="#8a8a8a" stroke="#505050" stroke-width="0.5"/>
<path d="M281.4 247.4L276.1 250.7M274.3 256.8L278.3 262.5M274.3 256.8L280.1 257.4M280.1 257.4L284.1 263.6M276.1 250.7L280.1 257.4M285.1 254.2L289.9 260.1M289.9 260.1L284.1 263.6M291.3 254.4L289.9 260.1M281.4 247.4L287.5 248.4M280.1 257.4L285.1 254.2M287.5 248.4L291.3 254.4M285.1 254.2L291.3 254.4M281.4 247.4L285.1 254.2M280.1 257.4L278.3 262.5M278.3 262.5L284.1 263.6M287.5 248.4L285.1 254.2M276.1 250.7L274.3 256.8" stroke="#bd98e0" stroke-width="0.45" fill="none"/>
<path d="M282.8 255.1L281.4 247.4M282.8 255.1L276.1 250.7M282.8 255.1L287.5 248.4M282.8 255.1L274.3 256.8M282.8 255.1L280.1 257.4M282.8 255.1L285.1 254.2M282.8 255.1L291.3 254.4M282.8 255.1L289.9 260.1M282.8 255.1L278.3 262.5M282.8 255.1L284.1 263.6" stroke="#5a1a9a" stroke-width="0.8" fill="none"/>
<circle cx="281.4" cy="247.4" r="2.15" fill="#fff" fill-opacity="0.6"/><circle cx="281.4" cy="247.4" r="1.55" fill="#8b1a1a" stroke="#601010" stroke-width="0.5"/>
<circle cx="276.1" cy="250.7" r="2.15" fill="#fff" fill-opacity="0.6"/><circle cx="276.1" cy="250.7" r="1.55" fill="#8b1a1a" stroke="#601010" stroke-width="0.5"/>
<circle cx="287.5" cy="248.4" r="1.60" fill="#fff" fill-opacity="0.6"/><circle cx="287.5" cy="248.4" r="1" fill="#8b1a1a" stroke="#601010" stroke-width="0.5"/>
<circle cx="274.3" cy="256.8" r="2.15" fill="#fff" fill-opacity="0.6"/><circle cx="274.3" cy="256.8" r="1.55" fill="#8b1a1a" stroke="#601010" stroke-width="0.5"/>
<circle cx="280.1" cy="257.4" r="2.15" fill="#fff" fill-opacity="0.6"/><circle cx="280.1" cy="257.4" r="1.55" fill="#8b1a1a" stroke="#601010" stroke-width="0.5"/>
<circle cx="285.1" cy="254.2" r="1.60" fill="#fff" fill-opacity="0.6"/><circle cx="285.1" cy="254.2" r="1" fill="#8b1a1a" stroke="#601010" stroke-width="0.5"/>
<circle cx="291.3" cy="254.4" r="1.60" fill="#fff" fill-opacity="0.6"/><circle cx="291.3" cy="254.4" r="1" fill="#8b1a1a" stroke="#601010" stroke-width="0.5"/>
<circle cx="289.9" cy="260.1" r="1.60" fill="#fff" fill-opacity="0.6"/><circle cx="289.9" cy="260.1" r="1" fill="#8b1a1a" stroke="#601010" stroke-width="0.5"/>
<circle cx="278.3" cy="262.5" r="2.15" fill="#fff" fill-opacity="0.6"/><circle cx="278.3" cy="262.5" r="1.55" fill="#8b1a1a" stroke="#601010" stroke-width="0.5"/>
<circle cx="284.1" cy="263.6" r="1.60" fill="#fff" fill-opacity="0.6"/><circle cx="284.1" cy="263.6" r="1" fill="#8b1a1a" stroke="#601010" stroke-width="0.5"/>
<circle cx="282.8" cy="255.1" r="0.9" fill="#4a1a8a"/>
<path d="M302 247.4L312.8 252.4M302 247.4L303.4 258.7M303.4 258.7L312.8 252.4M312.8 252.4L313.7 264.1M303.4 258.7L313.7 264.1" stroke="#c8a8e0" stroke-width="0.45" fill="none"/>
<circle cx="302" cy="247.4" r="1.50" fill="#fff" fill-opacity="0.6"/><circle cx="302" cy="247.4" r="0.9" fill="#eef4a0" stroke="#c8d080" stroke-width="0.5"/>
<circle cx="312.8" cy="252.4" r="1.95" fill="#fff" fill-opacity="0.6"/><circle cx="312.8" cy="252.4" r="1.35" fill="#eef4a0" stroke="#c8d080" stroke-width="0.5"/>
<circle cx="303.4" cy="258.7" r="1.95" fill="#fff" fill-opacity="0.6"/><circle cx="303.4" cy="258.7" r="1.35" fill="#eef4a0" stroke="#c8d080" stroke-width="0.5"/>
<circle cx="313.7" cy="264.1" r="1.95" fill="#fff" fill-opacity="0.6"/><circle cx="313.7" cy="264.1" r="1.35" fill="#eef4a0" stroke="#c8d080" stroke-width="0.5"/>
<path d="M329.9 247.4L338.6 251.7M329.9 247.4L325.2 256M329.9 247.4L333.9 260.9M338.6 251.7L325.2 256M338.6 251.7L333.9 260.9M325.2 256L333.9 260.9" stroke="#b890e0" stroke-width="0.45" fill="none"/>
<circle cx="329.9" cy="247.4" r="1.20" fill="#fff" fill-opacity="0.6"/><circle cx="329.9" cy="247.4" r="0.6" fill="#7898c0" stroke="#5070a0" stroke-width="0.5"/>
<circle cx="338.6" cy="251.7" r="1.20" fill="#fff" fill-opacity="0.6"/><circle cx="338.6" cy="251.7" r="0.6" fill="#7898c0" stroke="#5070a0" stroke-width="0.5"/>
<circle cx="325.2" cy="256" r="1.20" fill="#fff" fill-opacity="0.6"/><circle cx="325.2" cy="256" r="0.6" fill="#7898c0" stroke="#5070a0" stroke-width="0.5"/>
<circle cx="333.9" cy="260.9" r="1.20" fill="#fff" fill-opacity="0.6"/><circle cx="333.9" cy="260.9" r="0.6" fill="#7898c0" stroke="#5070a0" stroke-width="0.5"/>
<text x="104.7" y="161.8" font-size="6.7" text-anchor="end" textLength="35.9" lengthAdjust="spacingAndGlyphs" stroke="#333" stroke-width="0.04">Regulation of</text>
<text x="104.7" y="168.70000000000002" font-size="6.7" text-anchor="end" textLength="28.3" lengthAdjust="spacingAndGlyphs" stroke="#333" stroke-width="0.04">translation</text>
<text x="80.3" y="184.0" font-size="6.7" text-anchor="end" textLength="18.9" lengthAdjust="spacingAndGlyphs" stroke="#333" stroke-width="0.04">Protein</text>
<text x="80.3" y="191.1" font-size="6.7" text-anchor="end" textLength="31.7" lengthAdjust="spacingAndGlyphs" stroke="#333" stroke-width="0.04">stabilization</text>
<text x="72.2" y="209.6" font-size="6.7" text-anchor="end" textLength="24.7" lengthAdjust="spacingAndGlyphs" stroke="#333" stroke-width="0.04">Signaling</text>
<text x="72.2" y="216.20000000000002" font-size="6.7" text-anchor="end" textLength="30.8" lengthAdjust="spacingAndGlyphs" stroke="#333" stroke-width="0.04">by the BCR</text>
<text x="55" y="228.70000000000002" font-size="6.7" text-anchor="end" textLength="27.3" lengthAdjust="spacingAndGlyphs" stroke="#333" stroke-width="0.04">Cell Cycle</text>
<text x="43.2" y="254.0" font-size="6.7" text-anchor="end" textLength="36.1" lengthAdjust="spacingAndGlyphs" stroke="#333" stroke-width="0.04">Chromosome</text>
<text x="43.2" y="260.9" font-size="6.7" text-anchor="end" textLength="31.9" lengthAdjust="spacingAndGlyphs" stroke="#333" stroke-width="0.04">segregation</text>
<text x="48" y="278.09999999999997" font-size="6.7" text-anchor="end" textLength="29.1" lengthAdjust="spacingAndGlyphs" stroke="#333" stroke-width="0.04">Mitotic cell</text>
<text x="48" y="284.9" font-size="6.7" text-anchor="end" textLength="34.6" lengthAdjust="spacingAndGlyphs" stroke="#333" stroke-width="0.04">cycle process</text>
<text x="134.7" y="152.9" font-size="6.7" textLength="29.3" lengthAdjust="spacingAndGlyphs" stroke="#333" stroke-width="0.04">Nucleotide</text>
<text x="134.7" y="159.9" font-size="6.7" textLength="26.6" lengthAdjust="spacingAndGlyphs" stroke="#333" stroke-width="0.04">metabolic</text>
<text x="134.7" y="166.6" font-size="6.7" textLength="19.9" lengthAdjust="spacingAndGlyphs" stroke="#333" stroke-width="0.04">process</text>
<text x="186.5" y="153.8" font-size="6.7" textLength="31.9" lengthAdjust="spacingAndGlyphs" stroke="#333" stroke-width="0.04">Nucleobase</text>
<text x="186.5" y="161.20000000000002" font-size="6.7" textLength="32.5" lengthAdjust="spacingAndGlyphs" stroke="#333" stroke-width="0.04">biosynthetic</text>
<text x="186.5" y="168.0" font-size="6.7" textLength="20.4" lengthAdjust="spacingAndGlyphs" stroke="#333" stroke-width="0.04">process</text>
<text x="195.5" y="182.20000000000002" font-size="6.7" textLength="37.3" lengthAdjust="spacingAndGlyphs" stroke="#333" stroke-width="0.04">Mitochondrial</text>
<text x="195.5" y="189.0" font-size="6.7" textLength="24.4" lengthAdjust="spacingAndGlyphs" stroke="#333" stroke-width="0.04">transport</text>
<text x="194.4" y="201.8" font-size="6.7" textLength="14.8" lengthAdjust="spacingAndGlyphs" stroke="#333" stroke-width="0.04">tRNA</text>
<text x="194.4" y="208.9" font-size="6.7" textLength="26.6" lengthAdjust="spacingAndGlyphs" stroke="#333" stroke-width="0.04">metabolic</text>
<text x="194.4" y="216.0" font-size="6.7" textLength="20.4" lengthAdjust="spacingAndGlyphs" stroke="#333" stroke-width="0.04">process</text>
<text x="164.1" y="244.9" font-size="6.7" text-anchor="end" textLength="18" lengthAdjust="spacingAndGlyphs" stroke="#333" stroke-width="0.04">ncRNA</text>
<text x="164.1" y="252.20000000000002" font-size="6.7" text-anchor="end" textLength="48.7" lengthAdjust="spacingAndGlyphs" stroke="#333" stroke-width="0.04">metabolic process</text>
<text x="172.2" y="271.09999999999997" font-size="6.7" text-anchor="end" textLength="50.1" lengthAdjust="spacingAndGlyphs" stroke="#333" stroke-width="0.04">Ribonucleoprotein</text>
<text x="171.9" y="278.0" font-size="6.7" text-anchor="end" textLength="53.6" lengthAdjust="spacingAndGlyphs" stroke="#333" stroke-width="0.04">complex biogenesis</text>
<text x="209.7" y="258.79999999999995" font-size="6.7" textLength="32.4" lengthAdjust="spacingAndGlyphs" stroke="#333" stroke-width="0.04">Metabolism</text>
<text x="209.7" y="265.79999999999995" font-size="6.7" textLength="19.9" lengthAdjust="spacingAndGlyphs" stroke="#333" stroke-width="0.04">of RNA</text>
<text x="204.2" y="293.2" font-size="6.7" textLength="46" lengthAdjust="spacingAndGlyphs" stroke="#333" stroke-width="0.04">mRNA metabolic</text>
<text x="204.2" y="300.29999999999995" font-size="6.7" textLength="19.7" lengthAdjust="spacingAndGlyphs" stroke="#333" stroke-width="0.04">process</text>
<text x="313.2" y="163.1" font-size="6.7" text-anchor="middle" textLength="12.6" lengthAdjust="spacingAndGlyphs" stroke="#333" stroke-width="0.04">RNA</text>
<text x="313.05" y="170.4" font-size="6.7" text-anchor="middle" textLength="30.1" lengthAdjust="spacingAndGlyphs" stroke="#333" stroke-width="0.04">localization</text>
<text x="283.3" y="204.8" font-size="6.7" text-anchor="middle" textLength="55.8" lengthAdjust="spacingAndGlyphs" stroke="#333" stroke-width="0.04">Intracellular receptor</text>
<text x="283.4" y="211.8" font-size="6.7" text-anchor="middle" textLength="48.4" lengthAdjust="spacingAndGlyphs" stroke="#333" stroke-width="0.04">signaling pathway</text>
<text x="340.3" y="206.4" font-size="6.7" text-anchor="middle" textLength="53" lengthAdjust="spacingAndGlyphs" stroke="#333" stroke-width="0.04">Cellular component</text>
<text x="340.25" y="213.1" font-size="6.7" text-anchor="middle" textLength="32.3" lengthAdjust="spacingAndGlyphs" stroke="#333" stroke-width="0.04">disassembly</text>
<text x="283.1" y="234.5" font-size="6.7" text-anchor="middle" textLength="28.2" lengthAdjust="spacingAndGlyphs" stroke="#333" stroke-width="0.04">Chromatin</text>
<text x="283.55" y="241.4" font-size="6.7" text-anchor="middle" textLength="32.5" lengthAdjust="spacingAndGlyphs" stroke="#333" stroke-width="0.04">organization</text>
<text x="329.95" y="230.20000000000002" font-size="6.7" text-anchor="middle" textLength="50.3" lengthAdjust="spacingAndGlyphs" stroke="#333" stroke-width="0.04">Protein maturation</text>
<text x="329.8" y="237.1" font-size="6.7" text-anchor="middle" textLength="35.4" lengthAdjust="spacingAndGlyphs" stroke="#333" stroke-width="0.04">by iron-sulfur</text>
<text x="329.95" y="244.6" font-size="6.7" text-anchor="middle" textLength="39.7" lengthAdjust="spacingAndGlyphs" stroke="#333" stroke-width="0.04">cluster transfer</text>
<text x="312.05" y="278.2" font-size="6.7" text-anchor="middle" textLength="45.7" lengthAdjust="spacingAndGlyphs" stroke="#333" stroke-width="0.04">Cellular response</text>
<text x="312.1" y="284.9" font-size="6.7" text-anchor="middle" textLength="44" lengthAdjust="spacingAndGlyphs" stroke="#333" stroke-width="0.04">to DNA damage</text>
<text x="311.85" y="291.59999999999997" font-size="6.7" text-anchor="middle" textLength="21.9" lengthAdjust="spacingAndGlyphs" stroke="#333" stroke-width="0.04">stimulus</text>
<path d="M6.8 37 C8.5 37.5 10 36.5 11.5 35 C13 33.5 14.5 32.3 17 32.3 C18.5 32.3 19.5 33 20.2 34.5" fill="none" stroke="#888" stroke-width="0.7"/>
<ellipse cx="21.4" cy="44.2" rx="8" ry="8.8" fill="#fff" stroke="#8a8a8a" stroke-width="0.7"/>
<path d="M14.5 43.5 Q16.5 40.8 19.2 42.6 M28.3 43.5 Q26.3 40.8 23.6 42.6" fill="none" stroke="#9a9a9a" stroke-width="0.9"/>
<circle cx="19.7" cy="48.8" r="0.6" fill="#222"/><circle cx="23.3" cy="48.8" r="0.6" fill="#222"/><circle cx="21.5" cy="51.8" r="0.5" fill="#222"/>
<path d="M17 50.5 L14.5 51.5 M17 51.5 L15 53 M26 50.5 L28.5 51.5 M26 51.5 L28 53" stroke="#aaa" stroke-width="0.4"/>
<g transform="translate(38.2,30.6) rotate(-45)"><line x1="-9.5" y1="0" x2="-5" y2="0" stroke="#666" stroke-width="0.5"/><rect x="-5" y="-1.6" width="8" height="3.2" fill="#fff" stroke="#222" stroke-width="0.6"/><rect x="-4.6" y="-1.2" width="5" height="2.4" fill="#b00018"/><line x1="3" y1="-2.4" x2="3" y2="2.4" stroke="#222" stroke-width="0.8"/><line x1="3" y1="0" x2="6" y2="0" stroke="#222" stroke-width="0.8"/><line x1="6" y1="-2.2" x2="6" y2="2.2" stroke="#222" stroke-width="0.8"/></g>
<rect x="47.4" y="27.2" width="11.5" height="12.2" fill="#fff" stroke="#444" stroke-width="0.7"/>
<rect x="47.4" y="27.2" width="11.5" height="2.6" fill="#aaa" stroke="#444" stroke-width="0.5"/>
<line x1="48.6" y1="26" x2="48.6" y2="28" stroke="#444" stroke-width="0.6"/>
<line x1="50.9" y1="26" x2="50.9" y2="28" stroke="#444" stroke-width="0.6"/>
<line x1="53.2" y1="26" x2="53.2" y2="28" stroke="#444" stroke-width="0.6"/>
<line x1="55.5" y1="26" x2="55.5" y2="28" stroke="#444" stroke-width="0.6"/>
<line x1="57.8" y1="26" x2="57.8" y2="28" stroke="#444" stroke-width="0.6"/>
<text x="53.1" y="38.3" font-size="7.2" text-anchor="middle" fill="#222" stroke="#222" stroke-width="0.1">10</text>
<line x1="43.4" y1="41.6" x2="61.5" y2="41.6" stroke="#9a9a9a" stroke-width="1.3"/>
<path d="M61 40.5 L63 41.6 L61 42.7Z" fill="#222"/>
<path d="M69.1 17.2 L69.3 22.4 L72.4 26.3 L72.4 37.7 M79.3 17.2 L79.1 22.4 L75.7 26.3 L75.7 37.7" fill="none" stroke="#555" stroke-width="0.7"/>
<line x1="72.4" y1="37.7" x2="75.7" y2="37.7" stroke="#777" stroke-width="0.5"/>
<rect x="72.7" y="27.2" width="2.7" height="1.1" fill="#888"/>
<rect x="72.7" y="29.6" width="2.7" height="1.1" fill="#888"/>
<rect x="72.7" y="32.0" width="2.7" height="1.1" fill="#888"/>
<rect x="72.7" y="34.4" width="2.7" height="1.1" fill="#888"/>
<rect x="72.7" y="36.6" width="2.7" height="1.1" fill="#888"/>
<circle cx="72" cy="19.8" r="0.8" fill="#fff" stroke="#b02030" stroke-width="0.55"/>
<circle cx="74.2" cy="19.4" r="0.8" fill="#fff" stroke="#b02030" stroke-width="0.55"/>
<circle cx="76.5" cy="20.2" r="0.8" fill="#fff" stroke="#2a4a90" stroke-width="0.55"/>
<circle cx="71.8" cy="22.2" r="0.8" fill="#fff" stroke="#9a1a2a" stroke-width="0.55"/>
<circle cx="73.6" cy="22.6" r="0.8" fill="#fff" stroke="#555" stroke-width="0.55"/>
<circle cx="75.6" cy="22.3" r="0.8" fill="#fff" stroke="#b02030" stroke-width="0.55"/>
<circle cx="77.3" cy="21.8" r="0.8" fill="#fff" stroke="#2a4a90" stroke-width="0.55"/>
<circle cx="73.2" cy="24.6" r="0.8" fill="#fff" stroke="#b02030" stroke-width="0.55"/>
<circle cx="75" cy="25" r="0.8" fill="#fff" stroke="#2a4a90" stroke-width="0.55"/>
<circle cx="74" cy="28.4" r="0.8" fill="#fff" stroke="#b02030" stroke-width="0.55"/>
<circle cx="74" cy="30.8" r="0.8" fill="#fff" stroke="#c03040" stroke-width="0.55"/>
<circle cx="74" cy="33.2" r="0.8" fill="#fff" stroke="#b02030" stroke-width="0.55"/>
<circle cx="74" cy="35.6" r="0.8" fill="#fff" stroke="#2a4a90" stroke-width="0.55"/>
<g stroke="#555" stroke-width="0.6" fill="none"><path d="M70 40.5 L67.5 48 M73 40.5 L71.5 45 M68 51 L64 60.5 M71 50 L67 61.5"/><path d="M76.5 40.5 L78.5 46 M79.5 40.5 L81.5 45 M79.5 50 L82.5 60.5 M82.5 49 L86 60"/></g>
<path d="M64 59.5 L67.3 60.8 L65.2 65.5 Q63.8 66.3 63 65 Z" fill="#c0102a"/>
<path d="M82.3 59.8 L85.8 58.8 L87.2 63.8 Q86.5 65.8 85 65 Z" fill="#2a4a90"/>
<circle cx="72" cy="43.5" r="0.5" fill="#b02030"/><circle cx="73.5" cy="46" r="0.4" fill="#666"/><circle cx="78" cy="48" r="0.5" fill="#2a4a90"/><circle cx="74" cy="49" r="0.4" fill="#888"/>
<rect x="89.3" y="20.3" width="9" height="4.3" rx="0.8" fill="#fff" stroke="#555" stroke-width="0.6"/>
<rect x="88.2" y="25.7" width="11.6" height="14.3" fill="#fff" stroke="#555" stroke-width="0.5"/>
<rect x="88.9" y="28.2" width="10.2" height="11.3" fill="none" stroke="#7a0a18" stroke-width="1.1"/>
<path d="M92.5 36.5 L95.5 30.5" stroke="#888" stroke-width="0.5"/>
<line x1="85.8" y1="41.7" x2="103" y2="41.7" stroke="#9a9a9a" stroke-width="1.3"/>
<path d="M102.5 40.6 L104.5 41.7 L102.5 42.8Z" fill="#222"/>
<line x1="109.8" y1="27" x2="109.8" y2="51" stroke="#bbb" stroke-width="0.4" stroke-dasharray="0.6 1.4"/>
<line x1="130.7" y1="27" x2="130.7" y2="51" stroke="#bbb" stroke-width="0.4" stroke-dasharray="0.6 1.4"/>
<line x1="144.8" y1="27" x2="144.8" y2="51" stroke="#bbb" stroke-width="0.4" stroke-dasharray="0.6 1.4"/>
<line x1="160.8" y1="27" x2="160.8" y2="51" stroke="#bbb" stroke-width="0.4" stroke-dasharray="0.6 1.4"/>
<text x="104.3" y="33.8" font-size="4.6" fill="#444" font-family="Liberation Sans">X</text>
<text x="107.22" y="33.8" font-size="4.6" fill="#d04060" font-family="Liberation Sans">R</text>
<text x="110.14" y="33.8" font-size="4.6" fill="#444" font-family="Liberation Sans">X</text>
<text x="113.06" y="33.8" font-size="4.6" fill="#444" font-family="Liberation Sans">X</text>
<text x="115.98" y="33.8" font-size="4.6" fill="#444" font-family="Liberation Sans">X</text>
<text x="118.9" y="33.8" font-size="4.6" fill="#444" font-family="Liberation Sans">X</text>
<text x="121.82" y="33.8" font-size="4.6" fill="#444" font-family="Liberation Sans">X</text>
<text x="124.74" y="33.8" font-size="4.6" fill="#444" font-family="Liberation Sans">X</text>
<text x="127.66" y="33.8" font-size="4.6" fill="#d04060" font-family="Liberation Sans">K</text>
<text x="130.58" y="33.8" font-size="4.6" fill="#444" font-family="Liberation Sans">X</text>
<text x="133.5" y="33.8" font-size="4.6" fill="#444" font-family="Liberation Sans">X</text>
<text x="136.42" y="33.8" font-size="4.6" fill="#444" font-family="Liberation Sans">X</text>
<text x="139.34" y="33.8" font-size="4.6" fill="#444" font-family="Liberation Sans">X</text>
<text x="142.26" y="33.8" font-size="4.6" fill="#d04060" font-family="Liberation Sans">K</text>
<text x="145.18" y="33.8" font-size="4.6" fill="#444" font-family="Liberation Sans">X</text>
<text x="148.1" y="33.8" font-size="4.6" fill="#444" font-family="Liberation Sans">X</text>
<text x="151.02" y="33.8" font-size="4.6" fill="#444" font-family="Liberation Sans">X</text>
<text x="153.94" y="33.8" font-size="4.6" fill="#444" font-family="Liberation Sans">X</text>
<text x="156.86" y="33.8" font-size="4.6" fill="#444" font-family="Liberation Sans">X</text>
<text x="159.78" y="33.8" font-size="4.6" fill="#d04060" font-family="Liberation Sans">R</text>
<text x="162.7" y="33.8" font-size="4.6" fill="#444" font-family="Liberation Sans">X</text>
<text x="165.62" y="33.8" font-size="4.6" fill="#444" font-family="Liberation Sans">X</text>
<text x="168.54" y="33.8" font-size="4.6" fill="#444" font-family="Liberation Sans">X</text>
<text x="104.3" y="40.3" font-size="4.6" fill="#444" font-family="Liberation Sans">X</text>
<text x="107.22" y="40.3" font-size="4.6" fill="#d04060" font-family="Liberation Sans">R</text>
<text x="110.9" y="45.0" font-size="4.6" fill="#444" font-family="Liberation Sans">X</text>
<text x="113.82" y="45.0" font-size="4.6" fill="#444" font-family="Liberation Sans">X</text>
<text x="116.74" y="45.0" font-size="4.6" fill="#444" font-family="Liberation Sans">X</text>
<text x="119.66" y="45.0" font-size="4.6" fill="#444" font-family="Liberation Sans">X</text>
<text x="122.58" y="45.0" font-size="4.6" fill="#444" font-family="Liberation Sans">X</text>
<text x="125.5" y="45.0" font-size="4.6" fill="#444" font-family="Liberation Sans">X</text>
<text x="128.42" y="45.0" font-size="4.6" fill="#d04060" font-family="Liberation Sans">K</text>
<text x="131.4" y="48.6" font-size="4.6" fill="#444" font-family="Liberation Sans">X</text>
<text x="134.32" y="48.6" font-size="4.6" fill="#444" font-family="Liberation Sans">X</text>
<text x="137.24" y="48.6" font-size="4.6" fill="#444" font-family="Liberation Sans">X</text>
<text x="140.16" y="48.6" font-size="4.6" fill="#d04060" font-family="Liberation Sans">K</text>
<text x="145.6" y="53.0" font-size="4.6" fill="#444" font-family="Liberation Sans">X</text>
<text x="148.52" y="53.0" font-size="4.6" fill="#444" font-family="Liberation Sans">X</text>
<text x="151.44" y="53.0" font-size="4.6" fill="#444" font-family="Liberation Sans">X</text>
<text x="154.36" y="53.0" font-size="4.6" fill="#444" font-family="Liberation Sans">X</text>
<text x="157.28" y="53.0" font-size="4.6" fill="#d04060" font-family="Liberation Sans">R</text>
<line x1="133.3" y1="53.8" x2="133.3" y2="72" stroke="#222" stroke-width="0.6"/>
<path d="M132.3 71 L133.3 73.5 L134.3 71Z" fill="#222"/>
<line x1="119.1" y1="75.7" x2="119.1" y2="105.4" stroke="#333" stroke-width="0.7"/>
<line x1="119.1" y1="105.4" x2="154.5" y2="105.4" stroke="#333" stroke-width="0.7"/>
<circle cx="119.1" cy="75.9" r="0.7" fill="#222"/><circle cx="154.5" cy="105.4" r="0.7" fill="#222"/>
<path d="M121.7 105.2 C123.185 105.2 124.01 95.5 125 95.5 C125.99 95.5 126.815 105.2 128.3 105.2" fill="none" stroke="#4a6aaa" stroke-width="0.7"/>
<path d="M121.4 105.2 C123.02 105.2 123.92 88.4 125 88.4 C126.08 88.4 126.98 105.2 128.6 105.2" fill="none" stroke="#d03050" stroke-width="0.8"/>
<path d="M131.70000000000002 105.2 C132.42000000000002 105.2 132.82000000000002 101.5 133.3 101.5 C133.78 101.5 134.18 105.2 134.9 105.2" fill="none" stroke="#4a6aaa" stroke-width="0.7"/>
<path d="M131.5 105.2 C132.31 105.2 132.76000000000002 99.7 133.3 99.7 C133.84 99.7 134.29000000000002 105.2 135.10000000000002 105.2" fill="none" stroke="#d03050" stroke-width="0.8"/>
<path d="M142.1 105.2 C143.72 105.2 144.61999999999998 79.6 145.7 79.6 C146.78 79.6 147.67999999999998 105.2 149.29999999999998 105.2" fill="none" stroke="#4a6aaa" stroke-width="0.7"/>
<path d="M142.5 105.2 C143.94 105.2 144.73999999999998 91 145.7 91 C146.66 91 147.45999999999998 105.2 148.89999999999998 105.2" fill="none" stroke="#c02048" stroke-width="0.8"/>
<text x="116.2" y="91.9" font-size="5.8" text-anchor="middle" fill="#222" textLength="20" lengthAdjust="spacingAndGlyphs" transform="rotate(-90 116.2 91.9)" stroke="#222" stroke-width="0.1">MS signal</text>
<text x="137.2" y="113.3" font-size="5.4" text-anchor="middle" fill="#222" textLength="29" lengthAdjust="spacingAndGlyphs" stroke="#222" stroke-width="0.1">Elution time</text>
<line x1="76" y1="92.6" x2="94.1" y2="92.6" stroke="#9a9a9a" stroke-width="1.3"/>
<path d="M76.8 91.6 L74.6 92.6 L76.8 93.6Z" fill="#222"/>
<rect x="26.4" y="78.2" width="12.3" height="13.7" fill="#6a6a6a"/>
<rect x="26.70" y="78.4" width="1.25" height="13.3" fill="#2a2a2a"/>
<rect x="28.70" y="78.4" width="1.25" height="13.3" fill="#2a2a2a"/>
<rect x="30.70" y="78.4" width="1.25" height="13.3" fill="#2a2a2a"/>
<rect x="32.70" y="78.4" width="1.25" height="13.3" fill="#2a2a2a"/>
<rect x="34.70" y="78.4" width="1.25" height="13.3" fill="#2a2a2a"/>
<rect x="36.70" y="78.4" width="1.25" height="13.3" fill="#2a2a2a"/>
<line x1="46.9" y1="75.4" x2="46.9" y2="92.6" stroke="#333" stroke-width="0.5"/>
<line x1="46.9" y1="92.5" x2="56" y2="92.5" stroke="#333" stroke-width="0.5"/>
<line x1="46" y1="77.5" x2="46.9" y2="77.5" stroke="#333" stroke-width="0.4"/>
<line x1="46" y1="80.5" x2="46.9" y2="80.5" stroke="#333" stroke-width="0.4"/>
<line x1="46" y1="83.5" x2="46.9" y2="83.5" stroke="#333" stroke-width="0.4"/>
<line x1="46" y1="86.5" x2="46.9" y2="86.5" stroke="#333" stroke-width="0.4"/>
<line x1="46" y1="89.5" x2="46.9" y2="89.5" stroke="#333" stroke-width="0.4"/>
<rect x="47.8" y="80.6" width="1" height="12" fill="#4a6aba"/>
<rect x="49" y="91.2" width="0.9" height="1.3" fill="#d04060"/>
<rect x="53.3" y="82" width="1" height="10.5" fill="#4a6aba"/>
<rect x="54.6" y="88" width="1" height="4.5" fill="#d04060"/>
<rect x="33.3" y="95.6" width="27.2" height="13.9" fill="#fff" stroke="#555" stroke-width="0.6"/>
<path d="M33.8 108.5 Q34.3 98 36.5 96.3 C41 98.5 50 104 53 106 C55.5 107.8 57.5 108.8 59.8 109" fill="none" stroke="#c82048" stroke-width="0.75"/>
<circle cx="36.6" cy="96.3" r="0.6" fill="#b01030"/><circle cx="59.8" cy="109" r="0.6" fill="#b01030"/>
<path d="M250.5 81.8 Q256 86 258.2 104.4 L259.2 104.4 Q261.4 86 267 81.8 Z" fill="#cbcbcb"/>
<path d="M254.4 91.7h0.9v0.9h-0.9zM256.7 91.4h0.9v0.9h-0.9zM257.1 90.5h0.9v0.9h-0.9zM257.6 90.4h0.9v0.9h-0.9zM258.6 88.0h0.9v0.9h-0.9zM257.7 95.1h0.9v0.9h-0.9zM258.5 100.6h0.9v0.9h-0.9zM257.7 102.2h0.9v0.9h-0.9zM257.4 88.2h0.9v0.9h-0.9zM259.1 98.7h0.9v0.9h-0.9zM258.3 101.6h0.9v0.9h-0.9zM258.3 97.9h0.9v0.9h-0.9zM258.7 91.4h0.9v0.9h-0.9zM259.4 92.0h0.9v0.9h-0.9zM255.6 87.7h0.9v0.9h-0.9zM257.1 90.7h0.9v0.9h-0.9zM257.2 95.7h0.9v0.9h-0.9zM258.1 86.4h0.9v0.9h-0.9zM258.4 94.8h0.9v0.9h-0.9zM258.6 101.3h0.9v0.9h-0.9zM253.1 85.2h0.9v0.9h-0.9zM260.0 93.2h0.9v0.9h-0.9zM258.2 97.4h0.9v0.9h-0.9zM247.3 82.4h0.9v0.9h-0.9zM259.1 92.9h0.9v0.9h-0.9zM257.7 101.2h0.9v0.9h-0.9zM256.9 95.9h0.9v0.9h-0.9zM257.6 100.7h0.9v0.9h-0.9zM265.5 85.4h0.9v0.9h-0.9zM258.3 99.8h0.9v0.9h-0.9zM258.5 101.6h0.9v0.9h-0.9zM260.2 84.6h0.9v0.9h-0.9zM260.3 91.8h0.9v0.9h-0.9zM258.2 97.9h0.9v0.9h-0.9zM256.8 87.7h0.9v0.9h-0.9zM257.9 99.9h0.9v0.9h-0.9zM258.6 95.9h0.9v0.9h-0.9zM255.1 82.9h0.9v0.9h-0.9zM256.9 97.3h0.9v0.9h-0.9zM261.5 87.7h0.9v0.9h-0.9zM258.6 100.3h0.9v0.9h-0.9zM258.2 96.2h0.9v0.9h-0.9zM256.9 85.1h0.9v0.9h-0.9zM258.6 101.2h0.9v0.9h-0.9zM257.9 100.7h0.9v0.9h-0.9zM257.3 88.5h0.9v0.9h-0.9zM254.6 93.5h0.9v0.9h-0.9zM259.7 91.0h0.9v0.9h-0.9zM259.3 89.1h0.9v0.9h-0.9zM257.9 98.8h0.9v0.9h-0.9zM259.5 82.5h0.9v0.9h-0.9zM257.7 97.9h0.9v0.9h-0.9zM260.2 85.7h0.9v0.9h-0.9zM255.1 83.0h0.9v0.9h-0.9zM257.9 100.2h0.9v0.9h-0.9zM258.5 102.3h0.9v0.9h-0.9zM257.7 86.4h0.9v0.9h-0.9zM258.9 96.2h0.9v0.9h-0.9zM256.8 95.3h0.9v0.9h-0.9zM258.2 98.3h0.9v0.9h-0.9zM257.9 96.9h0.9v0.9h-0.9zM260.1 89.4h0.9v0.9h-0.9zM257.0 95.6h0.9v0.9h-0.9zM258.5 82.3h0.9v0.9h-0.9zM258.4 95.9h0.9v0.9h-0.9zM259.3 91.8h0.9v0.9h-0.9zM258.6 93.6h0.9v0.9h-0.9zM259.8 89.1h0.9v0.9h-0.9zM261.0 82.8h0.9v0.9h-0.9zM255.2 88.9h0.9v0.9h-0.9zM258.4 99.2h0.9v0.9h-0.9zM258.4 82.4h0.9v0.9h-0.9zM258.8 86.5h0.9v0.9h-0.9zM258.1 87.8h0.9v0.9h-0.9zM258.0 91.0h0.9v0.9h-0.9zM257.5 101.1h0.9v0.9h-0.9zM256.4 82.6h0.9v0.9h-0.9zM256.7 85.8h0.9v0.9h-0.9zM251.4 82.3h0.9v0.9h-0.9zM257.0 93.9h0.9v0.9h-0.9zM250.8 83.2h0.9v0.9h-0.9zM259.1 92.5h0.9v0.9h-0.9zM253.7 89.1h0.9v0.9h-0.9zM255.7 88.1h0.9v0.9h-0.9zM260.5 88.4h0.9v0.9h-0.9zM257.3 101.0h0.9v0.9h-0.9zM248.9 83.0h0.9v0.9h-0.9zM254.4 86.0h0.9v0.9h-0.9zM260.8 89.0h0.9v0.9h-0.9zM258.6 92.0h0.9v0.9h-0.9zM257.1 85.5h0.9v0.9h-0.9zM257.9 102.6h0.9v0.9h-0.9zM257.6 96.9h0.9v0.9h-0.9zM254.2 86.6h0.9v0.9h-0.9zM258.3 82.2h0.9v0.9h-0.9zM259.1 96.2h0.9v0.9h-0.9zM258.4 87.0h0.9v0.9h-0.9zM259.2 97.6h0.9v0.9h-0.9zM263.5 87.3h0.9v0.9h-0.9zM259.5 91.9h0.9v0.9h-0.9zM256.7 87.2h0.9v0.9h-0.9zM256.9 97.7h0.9v0.9h-0.9zM261.3 82.4h0.9v0.9h-0.9zM254.5 83.0h0.9v0.9h-0.9zM259.4 94.8h0.9v0.9h-0.9zM257.0 99.3h0.9v0.9h-0.9zM258.4 83.6h0.9v0.9h-0.9zM260.5 86.3h0.9v0.9h-0.9zM258.1 98.4h0.9v0.9h-0.9zM258.1 91.7h0.9v0.9h-0.9zM259.4 92.5h0.9v0.9h-0.9zM256.0 88.0h0.9v0.9h-0.9zM258.4 83.8h0.9v0.9h-0.9zM258.3 102.6h0.9v0.9h-0.9zM264.0 83.2h0.9v0.9h-0.9zM259.2 89.2h0.9v0.9h-0.9zM258.3 94.9h0.9v0.9h-0.9zM258.1 99.3h0.9v0.9h-0.9zM261.7 91.6h0.9v0.9h-0.9zM258.5 96.7h0.9v0.9h-0.9zM259.1 99.2h0.9v0.9h-0.9zM259.0 91.8h0.9v0.9h-0.9zM255.6 88.0h0.9v0.9h-0.9zM259.3 86.8h0.9v0.9h-0.9zM259.1 98.2h0.9v0.9h-0.9zM257.7 103.4h0.9v0.9h-0.9zM258.5 98.2h0.9v0.9h-0.9zM257.3 95.8h0.9v0.9h-0.9zM260.9 90.2h0.9v0.9h-0.9zM258.3 88.3h0.9v0.9h-0.9zM254.9 84.7h0.9v0.9h-0.9zM266.1 82.5h0.9v0.9h-0.9zM261.9 86.1h0.9v0.9h-0.9zM257.4 99.5h0.9v0.9h-0.9zM259.9 82.4h0.9v0.9h-0.9zM255.4 93.4h0.9v0.9h-0.9zM255.3 84.6h0.9v0.9h-0.9zM258.5 97.5h0.9v0.9h-0.9zM260.1 86.1h0.9v0.9h-0.9zM254.3 86.2h0.9v0.9h-0.9zM260.3 97.3h0.9v0.9h-0.9zM258.7 89.9h0.9v0.9h-0.9zM254.9 82.4h0.9v0.9h-0.9zM257.4 83.5h0.9v0.9h-0.9zM258.9 91.9h0.9v0.9h-0.9zM258.5 89.6h0.9v0.9h-0.9zM257.8 102.7h0.9v0.9h-0.9zM264.0 84.4h0.9v0.9h-0.9zM258.8 98.3h0.9v0.9h-0.9zM258.4 94.3h0.9v0.9h-0.9zM257.9 99.0h0.9v0.9h-0.9zM257.6 90.3h0.9v0.9h-0.9zM252.8 86.7h0.9v0.9h-0.9zM258.3 100.8h0.9v0.9h-0.9zM257.5 97.1h0.9v0.9h-0.9zM257.8 86.0h0.9v0.9h-0.9zM253.2 87.8h0.9v0.9h-0.9zM257.6 89.4h0.9v0.9h-0.9zM256.5 94.9h0.9v0.9h-0.9zM263.4 82.6h0.9v0.9h-0.9zM259.6 97.4h0.9v0.9h-0.9zM253.7 90.2h0.9v0.9h-0.9zM259.1 89.1h0.9v0.9h-0.9zM260.7 90.6h0.9v0.9h-0.9zM264.7 88.5h0.9v0.9h-0.9zM259.2 90.3h0.9v0.9h-0.9zM258.9 92.8h0.9v0.9h-0.9zM255.8 90.9h0.9v0.9h-0.9zM261.6 86.7h0.9v0.9h-0.9zM259.1 92.5h0.9v0.9h-0.9zM257.5 91.2h0.9v0.9h-0.9zM257.2 99.6h0.9v0.9h-0.9zM261.2 82.6h0.9v0.9h-0.9zM257.7 91.2h0.9v0.9h-0.9zM259.8 88.2h0.9v0.9h-0.9zM263.1 82.2h0.9v0.9h-0.9zM258.7 102.9h0.9v0.9h-0.9zM258.4 97.8h0.9v0.9h-0.9zM260.2 94.6h0.9v0.9h-0.9zM257.8 93.9h0.9v0.9h-0.9zM257.3 85.9h0.9v0.9h-0.9zM257.8 99.7h0.9v0.9h-0.9zM258.2 97.7h0.9v0.9h-0.9zM256.3 90.0h0.9v0.9h-0.9zM258.9 92.6h0.9v0.9h-0.9zM259.0 90.0h0.9v0.9h-0.9zM259.7 87.9h0.9v0.9h-0.9zM253.2 87.8h0.9v0.9h-0.9zM257.3 88.3h0.9v0.9h-0.9zM258.9 83.5h0.9v0.9h-0.9zM263.9 84.4h0.9v0.9h-0.9zM256.9 82.6h0.9v0.9h-0.9zM261.5 82.2h0.9v0.9h-0.9zM260.2 97.2h0.9v0.9h-0.9zM258.2 99.4h0.9v0.9h-0.9zM258.1 96.6h0.9v0.9h-0.9zM257.8 100.4h0.9v0.9h-0.9zM252.7 83.9h0.9v0.9h-0.9zM258.8 99.6h0.9v0.9h-0.9zM258.1 92.8h0.9v0.9h-0.9zM258.1 97.6h0.9v0.9h-0.9zM264.6 86.9h0.9v0.9h-0.9zM257.4 99.9h0.9v0.9h-0.9zM258.4 90.5h0.9v0.9h-0.9zM254.9 86.8h0.9v0.9h-0.9zM258.6 97.9h0.9v0.9h-0.9zM258.3 102.4h0.9v0.9h-0.9zM255.3 89.6h0.9v0.9h-0.9zM258.2 99.0h0.9v0.9h-0.9zM258.7 98.0h0.9v0.9h-0.9zM259.5 82.1h0.9v0.9h-0.9zM258.4 91.5h0.9v0.9h-0.9zM256.6 91.4h0.9v0.9h-0.9zM255.7 90.3h0.9v0.9h-0.9zM258.4 103.3h0.9v0.9h-0.9zM259.3 86.5h0.9v0.9h-0.9zM257.3 91.7h0.9v0.9h-0.9zM256.5 85.8h0.9v0.9h-0.9zM258.5 98.5h0.9v0.9h-0.9zM262.6 90.4h0.9v0.9h-0.9zM259.0 84.5h0.9v0.9h-0.9zM260.9 86.4h0.9v0.9h-0.9zM256.5 92.8h0.9v0.9h-0.9zM251.2 88.6h0.9v0.9h-0.9zM258.0 84.5h0.9v0.9h-0.9zM259.7 96.2h0.9v0.9h-0.9zM255.3 85.0h0.9v0.9h-0.9zM252.1 84.3h0.9v0.9h-0.9zM262.8 83.0h0.9v0.9h-0.9zM258.8 86.6h0.9v0.9h-0.9zM255.5 92.7h0.9v0.9h-0.9zM260.8 86.1h0.9v0.9h-0.9zM259.0 91.3h0.9v0.9h-0.9zM257.9 103.4h0.9v0.9h-0.9zM261.2 88.1h0.9v0.9h-0.9zM259.6 96.8h0.9v0.9h-0.9zM257.6 94.3h0.9v0.9h-0.9zM255.2 87.3h0.9v0.9h-0.9zM257.4 93.1h0.9v0.9h-0.9zM254.3 85.3h0.9v0.9h-0.9zM258.9 85.8h0.9v0.9h-0.9zM258.0 96.2h0.9v0.9h-0.9zM258.4 97.7h0.9v0.9h-0.9zM259.2 93.4h0.9v0.9h-0.9zM260.0 82.5h0.9v0.9h-0.9zM252.4 89.6h0.9v0.9h-0.9zM258.0 89.2h0.9v0.9h-0.9zM257.6 101.1h0.9v0.9h-0.9zM258.3 88.6h0.9v0.9h-0.9zM257.0 82.1h0.9v0.9h-0.9zM257.8 98.7h0.9v0.9h-0.9zM258.5 90.8h0.9v0.9h-0.9zM263.9 88.3h0.9v0.9h-0.9zM259.7 92.4h0.9v0.9h-0.9zM256.6 90.1h0.9v0.9h-0.9zM257.6 95.5h0.9v0.9h-0.9zM256.2 87.4h0.9v0.9h-0.9zM257.3 86.2h0.9v0.9h-0.9zM259.1 95.3h0.9v0.9h-0.9zM258.3 102.2h0.9v0.9h-0.9zM258.3 98.8h0.9v0.9h-0.9zM254.4 82.7h0.9v0.9h-0.9zM267.3 85.6h0.9v0.9h-0.9zM258.7 101.2h0.9v0.9h-0.9zM257.1 91.1h0.9v0.9h-0.9zM249.9 86.1h0.9v0.9h-0.9zM260.2 84.2h0.9v0.9h-0.9zM260.9 88.5h0.9v0.9h-0.9zM260.0 91.6h0.9v0.9h-0.9zM259.3 97.5h0.9v0.9h-0.9zM258.5 99.7h0.9v0.9h-0.9zM257.3 91.9h0.9v0.9h-0.9zM257.2 96.1h0.9v0.9h-0.9zM254.6 88.9h0.9v0.9h-0.9zM260.1 90.0h0.9v0.9h-0.9zM257.8 96.7h0.9v0.9h-0.9zM259.1 100.0h0.9v0.9h-0.9zM255.4 88.1h0.9v0.9h-0.9zM258.0 93.8h0.9v0.9h-0.9zM261.7 89.3h0.9v0.9h-0.9zM255.5 88.7h0.9v0.9h-0.9zM257.2 97.9h0.9v0.9h-0.9zM260.5 96.4h0.9v0.9h-0.9zM257.2 83.0h0.9v0.9h-0.9zM258.5 102.3h0.9v0.9h-0.9zM258.8 92.3h0.9v0.9h-0.9zM260.8 88.1h0.9v0.9h-0.9zM258.6 101.2h0.9v0.9h-0.9zM258.0 100.8h0.9v0.9h-0.9zM255.3 87.9h0.9v0.9h-0.9zM257.2 93.5h0.9v0.9h-0.9zM258.4 94.1h0.9v0.9h-0.9zM258.9 85.6h0.9v0.9h-0.9zM258.0 99.8h0.9v0.9h-0.9zM254.0 84.4h0.9v0.9h-0.9zM257.2 97.3h0.9v0.9h-0.9zM258.1 92.3h0.9v0.9h-0.9zM260.9 93.6h0.9v0.9h-0.9zM260.7 87.5h0.9v0.9h-0.9zM258.1 89.6h0.9v0.9h-0.9zM261.2 85.6h0.9v0.9h-0.9zM257.5 93.5h0.9v0.9h-0.9zM258.4 100.4h0.9v0.9h-0.9zM258.1 100.9h0.9v0.9h-0.9zM254.7 89.3h0.9v0.9h-0.9zM258.4 95.2h0.9v0.9h-0.9zM260.3 85.0h0.9v0.9h-0.9zM259.1 87.3h0.9v0.9h-0.9zM258.0 100.9h0.9v0.9h-0.9zM262.7 86.7h0.9v0.9h-0.9zM258.9 95.6h0.9v0.9h-0.9zM260.5 86.0h0.9v0.9h-0.9zM260.0 93.6h0.9v0.9h-0.9zM260.7 89.2h0.9v0.9h-0.9zM266.5 82.3h0.9v0.9h-0.9zM256.8 92.0h0.9v0.9h-0.9zM257.2 84.5h0.9v0.9h-0.9zM259.6 92.9h0.9v0.9h-0.9zM257.6 93.7h0.9v0.9h-0.9zM257.3 93.6h0.9v0.9h-0.9zM259.4 93.1h0.9v0.9h-0.9zM256.9 97.8h0.9v0.9h-0.9zM256.7 89.8h0.9v0.9h-0.9zM256.2 83.9h0.9v0.9h-0.9zM257.5 85.4h0.9v0.9h-0.9zM258.1 83.0h0.9v0.9h-0.9zM258.7 90.3h0.9v0.9h-0.9zM253.0 89.7h0.9v0.9h-0.9zM255.3 87.5h0.9v0.9h-0.9zM262.2 84.5h0.9v0.9h-0.9zM259.9 84.8h0.9v0.9h-0.9zM259.0 100.8h0.9v0.9h-0.9zM261.4 82.7h0.9v0.9h-0.9zM258.1 100.8h0.9v0.9h-0.9zM256.9 85.6h0.9v0.9h-0.9zM258.3 87.6h0.9v0.9h-0.9zM260.5 85.2h0.9v0.9h-0.9zM258.4 90.2h0.9v0.9h-0.9zM256.9 94.3h0.9v0.9h-0.9zM256.0 89.9h0.9v0.9h-0.9zM256.5 86.1h0.9v0.9h-0.9zM254.7 92.6h0.9v0.9h-0.9zM254.8 84.0h0.9v0.9h-0.9zM252.4 84.4h0.9v0.9h-0.9zM265.2 83.9h0.9v0.9h-0.9zM253.9 87.7h0.9v0.9h-0.9zM257.3 90.2h0.9v0.9h-0.9zM255.3 92.4h0.9v0.9h-0.9zM259.9 92.4h0.9v0.9h-0.9zM258.8 93.4h0.9v0.9h-0.9zM259.3 92.3h0.9v0.9h-0.9zM258.7 95.3h0.9v0.9h-0.9zM258.2 95.0h0.9v0.9h-0.9zM257.6 99.9h0.9v0.9h-0.9zM257.2 98.2h0.9v0.9h-0.9zM257.7 101.5h0.9v0.9h-0.9zM259.6 82.5h0.9v0.9h-0.9zM258.4 102.4h0.9v0.9h-0.9zM258.6 97.2h0.9v0.9h-0.9zM258.0 96.7h0.9v0.9h-0.9zM257.0 97.0h0.9v0.9h-0.9zM258.2 98.0h0.9v0.9h-0.9zM260.2 85.4h0.9v0.9h-0.9zM256.0 94.9h0.9v0.9h-0.9zM257.2 91.1h0.9v0.9h-0.9zM260.0 96.1h0.9v0.9h-0.9zM256.3 94.2h0.9v0.9h-0.9zM260.7 89.7h0.9v0.9h-0.9zM258.0 97.1h0.9v0.9h-0.9zM259.0 101.9h0.9v0.9h-0.9zM257.4 93.2h0.9v0.9h-0.9zM256.5 90.1h0.9v0.9h-0.9zM258.3 87.4h0.9v0.9h-0.9zM258.5 91.3h0.9v0.9h-0.9zM258.9 93.5h0.9v0.9h-0.9zM254.5 88.4h0.9v0.9h-0.9zM258.6 98.7h0.9v0.9h-0.9zM259.0 96.1h0.9v0.9h-0.9zM252.9 83.2h0.9v0.9h-0.9zM257.6 96.0h0.9v0.9h-0.9zM257.8 85.1h0.9v0.9h-0.9zM258.5 103.9h0.9v0.9h-0.9zM252.1 84.1h0.9v0.9h-0.9zM258.2 100.9h0.9v0.9h-0.9zM259.1 100.4h0.9v0.9h-0.9zM253.5 91.1h0.9v0.9h-0.9zM259.4 88.8h0.9v0.9h-0.9zM256.1 83.4h0.9v0.9h-0.9zM261.0 92.5h0.9v0.9h-0.9zM264.6 82.3h0.9v0.9h-0.9zM259.1 97.4h0.9v0.9h-0.9zM257.0 89.7h0.9v0.9h-0.9zM257.9 83.9h0.9v0.9h-0.9zM265.3 92.5h0.9v0.9h-0.9zM275.9 87.7h0.9v0.9h-0.9zM250.4 99.4h0.9v0.9h-0.9zM267.2 98.0h0.9v0.9h-0.9zM238.4 84.5h0.9v0.9h-0.9zM263.7 102.4h0.9v0.9h-0.9zM271.4 89.1h0.9v0.9h-0.9zM236.0 89.5h0.9v0.9h-0.9zM226.2 83.0h0.9v0.9h-0.9zM273.9 96.5h0.9v0.9h-0.9zM282.3 84.4h0.9v0.9h-0.9zM253.2 87.7h0.9v0.9h-0.9zM253.8 95.2h0.9v0.9h-0.9zM259.3 92.0h0.9v0.9h-0.9zM257.1 96.9h0.9v0.9h-0.9zM254.8 86.4h0.9v0.9h-0.9zM271.3 90.6h0.9v0.9h-0.9zM258.1 98.6h0.9v0.9h-0.9zM270.1 99.2h0.9v0.9h-0.9zM246.6 96.9h0.9v0.9h-0.9zM272.3 83.3h0.9v0.9h-0.9zM288.9 86.7h0.9v0.9h-0.9zM252.1 83.8h0.9v0.9h-0.9zM268.8 95.5h0.9v0.9h-0.9zM260.1 98.0h0.9v0.9h-0.9zM276.6 92.0h0.9v0.9h-0.9zM253.0 86.7h0.9v0.9h-0.9zM271.7 88.0h0.9v0.9h-0.9zM246.5 91.6h0.9v0.9h-0.9zM249.2 95.2h0.9v0.9h-0.9zM251.1 101.4h0.9v0.9h-0.9zM266.2 97.0h0.9v0.9h-0.9zM259.7 85.3h0.9v0.9h-0.9zM272.0 82.6h0.9v0.9h-0.9zM255.8 97.4h0.9v0.9h-0.9zM244.0 87.4h0.9v0.9h-0.9zM269.3 93.6h0.9v0.9h-0.9zM255.1 97.4h0.9v0.9h-0.9zM231.8 82.2h0.9v0.9h-0.9zM255.5 91.4h0.9v0.9h-0.9zM247.6 87.8h0.9v0.9h-0.9zM252.7 90.5h0.9v0.9h-0.9zM275.7 85.7h0.9v0.9h-0.9zM255.3 86.2h0.9v0.9h-0.9zM256.2 90.4h0.9v0.9h-0.9zM260.8 90.9h0.9v0.9h-0.9zM262.9 88.3h0.9v0.9h-0.9zM254.9 100.8h0.9v0.9h-0.9zM247.6 88.7h0.9v0.9h-0.9zM276.2 90.4h0.9v0.9h-0.9zM280.5 88.9h0.9v0.9h-0.9zM287.0 82.8h0.9v0.9h-0.9zM244.7 97.6h0.9v0.9h-0.9zM267.7 88.2h0.9v0.9h-0.9zM256.3 101.6h0.9v0.9h-0.9zM279.2 86.6h0.9v0.9h-0.9zM284.6 86.9h0.9v0.9h-0.9zM255.8 82.5h0.9v0.9h-0.9zM284.3 89.7h0.9v0.9h-0.9zM246.2 89.1h0.9v0.9h-0.9zM270.1 94.2h0.9v0.9h-0.9zM286.6 84.7h0.9v0.9h-0.9zM254.5 90.2h0.9v0.9h-0.9zM228.0 84.5h0.9v0.9h-0.9zM257.3 98.2h0.9v0.9h-0.9zM258.3 88.0h0.9v0.9h-0.9zM258.4 94.1h0.9v0.9h-0.9zM273.7 95.9h0.9v0.9h-0.9zM261.1 83.4h0.9v0.9h-0.9zM257.6 85.4h0.9v0.9h-0.9zM260.5 101.1h0.9v0.9h-0.9zM282.2 88.7h0.9v0.9h-0.9zM256.0 95.1h0.9v0.9h-0.9zM290.1 83.1h0.9v0.9h-0.9zM254.3 102.1h0.9v0.9h-0.9zM246.6 94.2h0.9v0.9h-0.9zM279.8 92.6h0.9v0.9h-0.9zM272.2 93.3h0.9v0.9h-0.9zM263.4 97.0h0.9v0.9h-0.9zM259.4 96.0h0.9v0.9h-0.9zM261.9 85.4h0.9v0.9h-0.9zM273.2 94.3h0.9v0.9h-0.9zM245.8 91.2h0.9v0.9h-0.9zM275.6 94.4h0.9v0.9h-0.9zM254.8 95.7h0.9v0.9h-0.9zM246.5 86.2h0.9v0.9h-0.9zM252.4 99.1h0.9v0.9h-0.9zM263.3 100.4h0.9v0.9h-0.9zM255.7 90.1h0.9v0.9h-0.9zM255.8 93.2h0.9v0.9h-0.9zM237.8 82.2h0.9v0.9h-0.9zM254.2 82.3h0.9v0.9h-0.9zM265.1 87.7h0.9v0.9h-0.9zM246.4 89.0h0.9v0.9h-0.9zM243.7 88.6h0.9v0.9h-0.9zM239.9 84.1h0.9v0.9h-0.9zM267.5 94.3h0.9v0.9h-0.9zM254.6 93.8h0.9v0.9h-0.9zM263.4 87.9h0.9v0.9h-0.9zM249.0 95.1h0.9v0.9h-0.9zM249.6 82.6h0.9v0.9h-0.9zM281.9 86.8h0.9v0.9h-0.9zM281.6 88.6h0.9v0.9h-0.9zM249.2 101.2h0.9v0.9h-0.9zM241.9 87.4h0.9v0.9h-0.9zM258.4 100.0h0.9v0.9h-0.9zM274.5 92.4h0.9v0.9h-0.9zM250.2 88.7h0.9v0.9h-0.9zM271.1 94.0h0.9v0.9h-0.9zM259.2 83.2h0.9v0.9h-0.9zM274.5 90.4h0.9v0.9h-0.9zM255.9 85.2h0.9v0.9h-0.9zM255.4 84.4h0.9v0.9h-0.9zM258.2 89.5h0.9v0.9h-0.9zM257.1 90.4h0.9v0.9h-0.9zM268.1 87.7h0.9v0.9h-0.9zM250.2 99.1h0.9v0.9h-0.9zM251.3 85.0h0.9v0.9h-0.9zM253.3 97.6h0.9v0.9h-0.9zM254.5 98.7h0.9v0.9h-0.9zM257.9 91.9h0.9v0.9h-0.9zM240.9 90.5h0.9v0.9h-0.9zM247.2 87.5h0.9v0.9h-0.9zM251.0 90.7h0.9v0.9h-0.9zM246.9 84.0h0.9v0.9h-0.9zM250.3 94.0h0.9v0.9h-0.9zM276.2 90.6h0.9v0.9h-0.9zM285.7 89.2h0.9v0.9h-0.9zM262.4 85.6h0.9v0.9h-0.9zM257.8 91.0h0.9v0.9h-0.9zM269.9 93.3h0.9v0.9h-0.9zM270.4 88.3h0.9v0.9h-0.9zM252.8 87.5h0.9v0.9h-0.9zM242.1 91.4h0.9v0.9h-0.9zM233.4 84.0h0.9v0.9h-0.9zM258.0 84.9h0.9v0.9h-0.9zM266.5 92.2h0.9v0.9h-0.9zM266.8 82.8h0.9v0.9h-0.9zM250.8 84.1h0.9v0.9h-0.9zM258.7 86.8h0.9v0.9h-0.9zM258.1 96.6h0.9v0.9h-0.9zM267.0 92.5h0.9v0.9h-0.9zM265.6 85.3h0.9v0.9h-0.9zM260.5 89.6h0.9v0.9h-0.9zM266.7 95.1h0.9v0.9h-0.9zM250.4 89.6h0.9v0.9h-0.9zM256.3 82.7h0.9v0.9h-0.9zM256.3 91.2h0.9v0.9h-0.9zM275.8 82.9h0.9v0.9h-0.9zM279.2 83.5h0.9v0.9h-0.9zM252.3 99.5h0.9v0.9h-0.9zM235.4 91.6h0.9v0.9h-0.9zM231.1 82.6h0.9v0.9h-0.9zM259.6 93.7h0.9v0.9h-0.9zM266.4 88.8h0.9v0.9h-0.9zM273.1 92.1h0.9v0.9h-0.9zM260.7 94.6h0.9v0.9h-0.9zM278.9 84.2h0.9v0.9h-0.9zM244.4 94.2h0.9v0.9h-0.9zM243.7 82.1h0.9v0.9h-0.9zM271.5 93.7h0.9v0.9h-0.9zM258.9 101.6h0.9v0.9h-0.9zM265.3 82.0h0.9v0.9h-0.9zM267.6 91.1h0.9v0.9h-0.9zM259.0 92.2h0.9v0.9h-0.9zM267.4 100.9h0.9v0.9h-0.9zM281.4 87.5h0.9v0.9h-0.9zM269.1 82.4h0.9v0.9h-0.9zM258.5 91.8h0.9v0.9h-0.9zM234.3 85.1h0.9v0.9h-0.9zM275.0 86.4h0.9v0.9h-0.9zM248.4 99.6h0.9v0.9h-0.9zM294.1 82.5h0.9v0.9h-0.9zM242.9 90.9h0.9v0.9h-0.9zM264.0 93.4h0.9v0.9h-0.9zM271.3 93.4h0.9v0.9h-0.9zM239.9 94.3h0.9v0.9h-0.9zM242.9 88.8h0.9v0.9h-0.9zM263.6 87.6h0.9v0.9h-0.9zM255.0 98.1h0.9v0.9h-0.9zM279.0 85.0h0.9v0.9h-0.9zM282.1 86.5h0.9v0.9h-0.9zM262.6 92.9h0.9v0.9h-0.9zM263.6 84.5h0.9v0.9h-0.9zM271.5 93.9h0.9v0.9h-0.9zM267.8 92.5h0.9v0.9h-0.9zM255.1 85.6h0.9v0.9h-0.9zM259.1 82.7h0.9v0.9h-0.9zM261.8 93.8h0.9v0.9h-0.9zM278.9 86.3h0.9v0.9h-0.9zM277.4 92.1h0.9v0.9h-0.9zM249.1 95.1h0.9v0.9h-0.9zM244.1 90.2h0.9v0.9h-0.9zM255.8 83.2h0.9v0.9h-0.9zM262.0 91.1h0.9v0.9h-0.9zM251.3 95.6h0.9v0.9h-0.9zM252.2 85.3h0.9v0.9h-0.9zM270.1 93.4h0.9v0.9h-0.9zM257.7 90.7h0.9v0.9h-0.9zM230.0 85.0h0.9v0.9h-0.9zM270.7 95.3h0.9v0.9h-0.9zM262.1 82.1h0.9v0.9h-0.9zM267.8 99.4h0.9v0.9h-0.9zM263.5 83.1h0.9v0.9h-0.9zM282.2 84.9h0.9v0.9h-0.9zM272.9 94.7h0.9v0.9h-0.9zM245.0 96.7h0.9v0.9h-0.9zM283.6 87.7h0.9v0.9h-0.9zM252.1 90.0h0.9v0.9h-0.9zM256.5 101.9h0.9v0.9h-0.9zM262.0 90.6h0.9v0.9h-0.9zM271.1 89.0h0.9v0.9h-0.9zM257.4 87.6h0.9v0.9h-0.9zM280.7 82.3h0.9v0.9h-0.9zM261.1 103.2h0.9v0.9h-0.9zM250.0 90.4h0.9v0.9h-0.9zM275.0 83.6h0.9v0.9h-0.9zM261.9 94.8h0.9v0.9h-0.9zM255.4 89.8h0.9v0.9h-0.9zM253.8 101.4h0.9v0.9h-0.9zM266.9 85.6h0.9v0.9h-0.9zM259.2 84.4h0.9v0.9h-0.9zM257.5 89.3h0.9v0.9h-0.9zM276.9 91.3h0.9v0.9h-0.9zM269.0 83.8h0.9v0.9h-0.9zM225.4 83.6h0.9v0.9h-0.9zM262.9 89.0h0.9v0.9h-0.9zM258.2 82.0h0.9v0.9h-0.9zM263.1 96.9h0.9v0.9h-0.9zM277.1 91.2h0.9v0.9h-0.9zM264.6 91.3h0.9v0.9h-0.9zM269.3 93.2h0.9v0.9h-0.9zM243.8 93.6h0.9v0.9h-0.9zM249.4 94.9h0.9v0.9h-0.9zM249.9 85.6h0.9v0.9h-0.9zM262.6 96.4h0.9v0.9h-0.9zM250.2 90.0h0.9v0.9h-0.9zM255.6 100.1h0.9v0.9h-0.9zM258.1 88.0h0.9v0.9h-0.9zM245.8 95.9h0.9v0.9h-0.9zM263.2 97.9h0.9v0.9h-0.9zM231.3 84.0h0.9v0.9h-0.9zM270.3 99.3h0.9v0.9h-0.9zM241.5 92.2h0.9v0.9h-0.9zM255.8 88.2h0.9v0.9h-0.9zM286.5 86.3h0.9v0.9h-0.9zM268.5 99.9h0.9v0.9h-0.9zM273.5 82.8h0.9v0.9h-0.9zM256.3 87.5h0.9v0.9h-0.9zM269.9 84.6h0.9v0.9h-0.9zM269.5 89.3h0.9v0.9h-0.9zM247.7 91.1h0.9v0.9h-0.9zM261.9 101.1h0.9v0.9h-0.9zM230.1 87.0h0.9v0.9h-0.9zM262.2 96.5h0.9v0.9h-0.9zM260.6 93.8h0.9v0.9h-0.9zM258.8 89.3h0.9v0.9h-0.9zM243.8 95.5h0.9v0.9h-0.9zM293.6 83.7h0.9v0.9h-0.9zM250.2 99.5h0.9v0.9h-0.9zM265.7 93.9h0.9v0.9h-0.9zM261.8 88.0h0.9v0.9h-0.9zM257.5 93.2h0.9v0.9h-0.9zM283.4 87.7h0.9v0.9h-0.9zM268.9 99.2h0.9v0.9h-0.9zM232.1 84.1h0.9v0.9h-0.9zM260.1 96.5h0.9v0.9h-0.9zM280.5 92.0h0.9v0.9h-0.9zM259.5 94.7h0.9v0.9h-0.9zM258.5 95.7h0.9v0.9h-0.9zM287.1 85.5h0.9v0.9h-0.9zM252.5 99.2h0.9v0.9h-0.9zM247.4 92.4h0.9v0.9h-0.9zM277.3 91.9h0.9v0.9h-0.9zM256.4 95.7h0.9v0.9h-0.9zM256.1 87.2h0.9v0.9h-0.9zM266.3 97.7h0.9v0.9h-0.9zM258.2 91.5h0.9v0.9h-0.9zM249.6 99.4h0.9v0.9h-0.9zM275.6 91.4h0.9v0.9h-0.9zM247.8 95.2h0.9v0.9h-0.9zM263.3 90.1h0.9v0.9h-0.9zM243.3 97.1h0.9v0.9h-0.9zM261.9 91.7h0.9v0.9h-0.9zM260.3 87.3h0.9v0.9h-0.9zM235.7 82.5h0.9v0.9h-0.9zM266.2 89.5h0.9v0.9h-0.9zM246.1 84.5h0.9v0.9h-0.9zM261.3 99.6h0.9v0.9h-0.9zM264.5 87.2h0.9v0.9h-0.9zM258.1 85.3h0.9v0.9h-0.9zM265.5 91.1h0.9v0.9h-0.9zM241.4 93.2h0.9v0.9h-0.9zM241.5 82.9h0.9v0.9h-0.9zM257.6 98.2h0.9v0.9h-0.9zM258.5 91.4h0.9v0.9h-0.9zM288.6 87.1h0.9v0.9h-0.9zM236.9 83.4h0.9v0.9h-0.9zM253.7 96.4h0.9v0.9h-0.9zM268.8 89.3h0.9v0.9h-0.9zM227.2 86.0h0.9v0.9h-0.9zM238.2 94.4h0.9v0.9h-0.9zM265.6 99.5h0.9v0.9h-0.9zM243.2 83.8h0.9v0.9h-0.9zM266.7 87.2h0.9v0.9h-0.9zM259.0 96.8h0.9v0.9h-0.9zM254.8 83.8h0.9v0.9h-0.9zM277.2 86.1h0.9v0.9h-0.9zM259.6 97.5h0.9v0.9h-0.9zM281.2 91.2h0.9v0.9h-0.9zM256.1 82.2h0.9v0.9h-0.9zM239.5 90.3h0.9v0.9h-0.9zM257.8 98.4h0.9v0.9h-0.9zM249.8 94.2h0.9v0.9h-0.9zM274.7 92.5h0.9v0.9h-0.9zM265.9 94.0h0.9v0.9h-0.9zM246.3 98.0h0.9v0.9h-0.9zM257.1 98.0h0.9v0.9h-0.9zM248.9 87.5h0.9v0.9h-0.9zM248.3 86.7h0.9v0.9h-0.9zM252.1 102.5h0.9v0.9h-0.9zM259.6 97.9h0.9v0.9h-0.9zM249.2 88.1h0.9v0.9h-0.9zM249.9 88.8h0.9v0.9h-0.9zM254.3 92.7h0.9v0.9h-0.9zM261.8 97.8h0.9v0.9h-0.9zM244.8 88.9h0.9v0.9h-0.9zM249.8 88.7h0.9v0.9h-0.9zM261.4 92.8h0.9v0.9h-0.9zM262.2 98.8h0.9v0.9h-0.9zM269.7 86.1h0.9v0.9h-0.9zM257.2 100.2h0.9v0.9h-0.9zM265.9 91.0h0.9v0.9h-0.9zM245.5 94.6h0.9v0.9h-0.9zM262.3 101.1h0.9v0.9h-0.9zM271.7 94.4h0.9v0.9h-0.9zM258.2 91.1h0.9v0.9h-0.9zM249.9 87.0h0.9v0.9h-0.9zM282.9 86.9h0.9v0.9h-0.9zM253.9 94.9h0.9v0.9h-0.9zM258.9 88.7h0.9v0.9h-0.9zM265.4 98.5h0.9v0.9h-0.9zM278.6 83.6h0.9v0.9h-0.9zM253.4 91.1h0.9v0.9h-0.9zM248.3 85.6h0.9v0.9h-0.9zM262.9 94.5h0.9v0.9h-0.9zM241.3 92.3h0.9v0.9h-0.9zM226.2 86.2h0.9v0.9h-0.9zM273.5 88.9h0.9v0.9h-0.9zM274.9 87.7h0.9v0.9h-0.9zM253.6 101.7h0.9v0.9h-0.9zM260.7 103.0h0.9v0.9h-0.9zM254.9 85.6h0.9v0.9h-0.9zM254.4 98.8h0.9v0.9h-0.9zM278.5 89.7h0.9v0.9h-0.9zM236.9 89.7h0.9v0.9h-0.9z" fill="#c8c8c8"/>
<line x1="201.5" y1="81.6" x2="323" y2="81.6" stroke="#c8c8c8" stroke-width="0.8" stroke-dasharray="3.2 2.4"/>
<path d="M255.2 75.3h0.95v0.95h-0.95zM254.4 73.4h0.95v0.95h-0.95zM254.7 66.4h0.95v0.95h-0.95zM254.9 73.7h0.95v0.95h-0.95zM254.3 68.3h0.95v0.95h-0.95zM254.7 77.6h0.95v0.95h-0.95zM254.0 71.5h0.95v0.95h-0.95zM255.0 68.6h0.95v0.95h-0.95zM253.6 68.2h0.95v0.95h-0.95zM254.5 68.5h0.95v0.95h-0.95zM253.9 76.5h0.95v0.95h-0.95zM254.7 79.8h0.95v0.95h-0.95zM254.5 80.4h0.95v0.95h-0.95zM254.8 74.0h0.95v0.95h-0.95zM254.6 76.8h0.95v0.95h-0.95zM253.6 71.6h0.95v0.95h-0.95zM255.2 69.3h0.95v0.95h-0.95zM253.8 60.8h0.95v0.95h-0.95zM253.6 71.0h0.95v0.95h-0.95zM254.7 50.5h0.95v0.95h-0.95zM253.1 72.3h0.95v0.95h-0.95zM254.2 79.8h0.95v0.95h-0.95zM253.4 78.9h0.95v0.95h-0.95zM254.8 80.6h0.95v0.95h-0.95zM254.0 75.6h0.95v0.95h-0.95zM253.8 78.2h0.95v0.95h-0.95zM253.9 69.7h0.95v0.95h-0.95zM254.7 55.5h0.95v0.95h-0.95zM254.8 67.8h0.95v0.95h-0.95zM252.8 78.5h0.95v0.95h-0.95zM254.5 72.8h0.95v0.95h-0.95zM255.1 79.0h0.95v0.95h-0.95zM253.4 75.9h0.95v0.95h-0.95zM254.9 70.8h0.95v0.95h-0.95zM251.7 64.2h0.95v0.95h-0.95zM252.6 78.8h0.95v0.95h-0.95zM253.5 64.1h0.95v0.95h-0.95zM254.4 79.2h0.95v0.95h-0.95zM254.9 65.2h0.95v0.95h-0.95zM253.3 66.4h0.95v0.95h-0.95zM253.3 59.1h0.95v0.95h-0.95zM254.1 64.9h0.95v0.95h-0.95zM251.9 62.0h0.95v0.95h-0.95zM254.1 78.9h0.95v0.95h-0.95zM253.2 69.0h0.95v0.95h-0.95zM254.2 79.9h0.95v0.95h-0.95zM255.1 66.4h0.95v0.95h-0.95zM254.1 80.5h0.95v0.95h-0.95zM254.6 80.6h0.95v0.95h-0.95zM255.3 71.5h0.95v0.95h-0.95zM254.2 78.7h0.95v0.95h-0.95zM255.2 57.1h0.95v0.95h-0.95zM252.4 68.4h0.95v0.95h-0.95zM253.5 71.0h0.95v0.95h-0.95zM254.6 62.5h0.95v0.95h-0.95zM254.8 64.0h0.95v0.95h-0.95zM253.8 63.2h0.95v0.95h-0.95zM254.9 80.5h0.95v0.95h-0.95zM254.8 70.6h0.95v0.95h-0.95zM254.3 78.8h0.95v0.95h-0.95zM254.9 70.0h0.95v0.95h-0.95zM251.6 77.1h0.95v0.95h-0.95zM255.3 65.7h0.95v0.95h-0.95zM254.4 75.8h0.95v0.95h-0.95zM255.2 75.4h0.95v0.95h-0.95zM254.4 64.9h0.95v0.95h-0.95zM253.6 58.2h0.95v0.95h-0.95zM254.0 68.7h0.95v0.95h-0.95zM251.3 55.2h0.95v0.95h-0.95zM252.2 72.1h0.95v0.95h-0.95zM254.4 64.8h0.95v0.95h-0.95zM255.2 78.1h0.95v0.95h-0.95zM252.8 50.8h0.95v0.95h-0.95zM252.3 71.7h0.95v0.95h-0.95zM253.5 77.7h0.95v0.95h-0.95zM254.4 68.1h0.95v0.95h-0.95zM253.6 75.1h0.95v0.95h-0.95zM253.8 72.4h0.95v0.95h-0.95zM253.0 74.9h0.95v0.95h-0.95zM254.4 69.1h0.95v0.95h-0.95zM254.4 68.9h0.95v0.95h-0.95zM253.4 51.5h0.95v0.95h-0.95zM255.1 74.9h0.95v0.95h-0.95zM254.0 77.5h0.95v0.95h-0.95zM251.6 72.6h0.95v0.95h-0.95zM254.6 52.6h0.95v0.95h-0.95zM253.7 60.2h0.95v0.95h-0.95zM255.3 78.6h0.95v0.95h-0.95zM255.2 65.2h0.95v0.95h-0.95zM253.3 74.4h0.95v0.95h-0.95zM252.5 60.2h0.95v0.95h-0.95zM254.3 68.7h0.95v0.95h-0.95zM255.3 77.9h0.95v0.95h-0.95zM253.0 62.8h0.95v0.95h-0.95zM255.3 78.3h0.95v0.95h-0.95zM254.7 59.3h0.95v0.95h-0.95zM253.6 75.4h0.95v0.95h-0.95zM253.9 63.6h0.95v0.95h-0.95zM255.4 80.6h0.95v0.95h-0.95zM254.0 61.9h0.95v0.95h-0.95zM254.8 59.0h0.95v0.95h-0.95zM254.6 71.9h0.95v0.95h-0.95zM255.2 79.6h0.95v0.95h-0.95zM254.2 79.6h0.95v0.95h-0.95zM254.3 68.5h0.95v0.95h-0.95zM253.2 71.8h0.95v0.95h-0.95zM255.1 72.6h0.95v0.95h-0.95zM254.7 75.4h0.95v0.95h-0.95zM254.4 75.5h0.95v0.95h-0.95zM255.0 60.5h0.95v0.95h-0.95zM254.4 76.5h0.95v0.95h-0.95zM254.4 75.6h0.95v0.95h-0.95zM255.2 71.9h0.95v0.95h-0.95zM254.7 75.4h0.95v0.95h-0.95zM254.1 79.6h0.95v0.95h-0.95zM253.0 71.8h0.95v0.95h-0.95zM252.7 71.3h0.95v0.95h-0.95zM255.2 76.2h0.95v0.95h-0.95zM254.2 80.0h0.95v0.95h-0.95zM253.8 78.3h0.95v0.95h-0.95zM255.3 69.6h0.95v0.95h-0.95zM252.2 64.9h0.95v0.95h-0.95zM255.3 69.2h0.95v0.95h-0.95zM253.0 67.2h0.95v0.95h-0.95zM254.0 78.6h0.95v0.95h-0.95zM253.9 77.9h0.95v0.95h-0.95zM253.3 77.1h0.95v0.95h-0.95zM253.6 80.0h0.95v0.95h-0.95zM255.2 79.9h0.95v0.95h-0.95zM255.4 69.4h0.95v0.95h-0.95zM253.7 57.0h0.95v0.95h-0.95zM254.5 75.8h0.95v0.95h-0.95zM252.0 59.4h0.95v0.95h-0.95zM254.7 71.1h0.95v0.95h-0.95zM255.0 74.9h0.95v0.95h-0.95zM251.5 74.5h0.95v0.95h-0.95zM254.6 78.5h0.95v0.95h-0.95zM252.2 70.2h0.95v0.95h-0.95zM251.5 76.6h0.95v0.95h-0.95zM254.9 70.0h0.95v0.95h-0.95zM254.5 74.0h0.95v0.95h-0.95zM255.2 76.6h0.95v0.95h-0.95zM254.0 76.5h0.95v0.95h-0.95zM255.0 71.2h0.95v0.95h-0.95zM254.7 78.3h0.95v0.95h-0.95zM255.0 66.4h0.95v0.95h-0.95zM254.1 62.8h0.95v0.95h-0.95zM254.6 52.9h0.95v0.95h-0.95zM254.8 73.5h0.95v0.95h-0.95zM254.7 71.9h0.95v0.95h-0.95zM251.9 79.0h0.95v0.95h-0.95zM255.4 73.9h0.95v0.95h-0.95zM253.5 73.4h0.95v0.95h-0.95zM252.6 75.1h0.95v0.95h-0.95zM255.1 68.0h0.95v0.95h-0.95zM253.2 62.8h0.95v0.95h-0.95zM255.2 73.4h0.95v0.95h-0.95zM253.4 50.5h0.95v0.95h-0.95zM254.9 61.2h0.95v0.95h-0.95zM255.1 77.7h0.95v0.95h-0.95zM254.6 77.0h0.95v0.95h-0.95zM254.3 80.1h0.95v0.95h-0.95zM255.3 72.6h0.95v0.95h-0.95zM253.6 76.6h0.95v0.95h-0.95zM253.9 73.3h0.95v0.95h-0.95zM255.2 79.9h0.95v0.95h-0.95zM255.0 79.6h0.95v0.95h-0.95zM253.3 79.7h0.95v0.95h-0.95zM254.0 71.8h0.95v0.95h-0.95zM254.4 73.5h0.95v0.95h-0.95zM252.4 65.7h0.95v0.95h-0.95zM254.5 70.2h0.95v0.95h-0.95zM254.9 68.2h0.95v0.95h-0.95zM252.0 68.0h0.95v0.95h-0.95zM251.7 77.9h0.95v0.95h-0.95zM252.4 66.2h0.95v0.95h-0.95zM253.7 73.5h0.95v0.95h-0.95zM255.3 71.2h0.95v0.95h-0.95zM253.0 71.9h0.95v0.95h-0.95zM253.3 79.3h0.95v0.95h-0.95zM251.7 65.2h0.95v0.95h-0.95zM254.7 79.6h0.95v0.95h-0.95zM254.0 76.6h0.95v0.95h-0.95zM254.6 68.0h0.95v0.95h-0.95zM254.4 68.4h0.95v0.95h-0.95zM255.3 80.3h0.95v0.95h-0.95zM255.4 71.5h0.95v0.95h-0.95zM254.3 66.0h0.95v0.95h-0.95zM255.2 75.8h0.95v0.95h-0.95zM255.4 67.4h0.95v0.95h-0.95zM251.5 61.3h0.95v0.95h-0.95zM253.7 78.4h0.95v0.95h-0.95zM253.7 62.7h0.95v0.95h-0.95zM252.5 78.6h0.95v0.95h-0.95zM254.2 78.1h0.95v0.95h-0.95zM254.2 69.4h0.95v0.95h-0.95zM254.4 67.5h0.95v0.95h-0.95zM254.7 68.0h0.95v0.95h-0.95zM255.2 71.2h0.95v0.95h-0.95zM253.7 73.3h0.95v0.95h-0.95zM254.5 76.5h0.95v0.95h-0.95zM252.4 76.0h0.95v0.95h-0.95zM250.9 70.1h0.95v0.95h-0.95zM254.0 65.4h0.95v0.95h-0.95zM252.9 75.4h0.95v0.95h-0.95zM252.6 73.1h0.95v0.95h-0.95zM252.6 71.2h0.95v0.95h-0.95zM254.3 77.9h0.95v0.95h-0.95zM255.2 78.6h0.95v0.95h-0.95zM255.3 70.1h0.95v0.95h-0.95zM253.3 76.6h0.95v0.95h-0.95zM253.0 57.8h0.95v0.95h-0.95zM254.9 78.1h0.95v0.95h-0.95zM254.7 78.0h0.95v0.95h-0.95zM255.0 57.3h0.95v0.95h-0.95zM254.5 78.0h0.95v0.95h-0.95zM252.8 74.0h0.95v0.95h-0.95zM255.2 64.6h0.95v0.95h-0.95zM253.4 67.5h0.95v0.95h-0.95zM254.0 58.9h0.95v0.95h-0.95zM252.7 78.4h0.95v0.95h-0.95zM253.8 70.2h0.95v0.95h-0.95zM254.5 65.2h0.95v0.95h-0.95zM255.3 69.3h0.95v0.95h-0.95zM255.1 79.2h0.95v0.95h-0.95zM252.8 69.7h0.95v0.95h-0.95zM253.1 78.5h0.95v0.95h-0.95zM253.0 77.9h0.95v0.95h-0.95zM255.3 70.6h0.95v0.95h-0.95zM254.4 79.7h0.95v0.95h-0.95zM246.5 71.0h0.95v0.95h-0.95zM253.4 54.2h0.95v0.95h-0.95zM247.1 56.3h0.95v0.95h-0.95zM239.1 77.6h0.95v0.95h-0.95zM241.0 71.7h0.95v0.95h-0.95zM252.4 66.9h0.95v0.95h-0.95zM248.2 77.7h0.95v0.95h-0.95zM255.0 74.5h0.95v0.95h-0.95zM250.4 62.3h0.95v0.95h-0.95zM244.5 74.8h0.95v0.95h-0.95zM253.4 78.1h0.95v0.95h-0.95zM253.1 72.6h0.95v0.95h-0.95zM254.8 77.1h0.95v0.95h-0.95zM250.9 80.3h0.95v0.95h-0.95zM240.5 73.8h0.95v0.95h-0.95zM250.9 71.2h0.95v0.95h-0.95zM253.0 75.9h0.95v0.95h-0.95zM240.0 74.8h0.95v0.95h-0.95zM249.6 79.5h0.95v0.95h-0.95zM245.4 70.0h0.95v0.95h-0.95zM246.8 73.2h0.95v0.95h-0.95zM247.7 54.8h0.95v0.95h-0.95zM247.8 78.1h0.95v0.95h-0.95zM253.0 45.8h0.95v0.95h-0.95zM243.0 78.8h0.95v0.95h-0.95zM253.9 80.2h0.95v0.95h-0.95zM252.7 73.3h0.95v0.95h-0.95zM246.3 68.9h0.95v0.95h-0.95zM243.4 77.2h0.95v0.95h-0.95zM246.1 71.0h0.95v0.95h-0.95zM250.2 75.1h0.95v0.95h-0.95zM248.8 79.7h0.95v0.95h-0.95zM248.8 51.9h0.95v0.95h-0.95zM254.7 80.2h0.95v0.95h-0.95zM244.8 77.8h0.95v0.95h-0.95zM254.3 75.4h0.95v0.95h-0.95zM247.6 75.6h0.95v0.95h-0.95zM251.4 68.0h0.95v0.95h-0.95zM246.6 71.0h0.95v0.95h-0.95zM255.0 71.8h0.95v0.95h-0.95zM254.4 69.2h0.95v0.95h-0.95zM248.8 80.2h0.95v0.95h-0.95zM254.7 80.6h0.95v0.95h-0.95zM249.4 76.1h0.95v0.95h-0.95zM238.3 79.7h0.95v0.95h-0.95zM250.9 62.9h0.95v0.95h-0.95zM252.1 72.5h0.95v0.95h-0.95zM254.9 45.8h0.95v0.95h-0.95zM253.1 77.4h0.95v0.95h-0.95zM250.8 62.0h0.95v0.95h-0.95zM250.6 75.8h0.95v0.95h-0.95zM253.6 60.4h0.95v0.95h-0.95zM247.2 66.1h0.95v0.95h-0.95zM251.2 75.2h0.95v0.95h-0.95zM249.8 75.4h0.95v0.95h-0.95zM246.4 77.2h0.95v0.95h-0.95zM252.1 75.8h0.95v0.95h-0.95zM250.8 66.9h0.95v0.95h-0.95zM241.7 74.8h0.95v0.95h-0.95zM251.0 75.1h0.95v0.95h-0.95zM245.1 59.5h0.95v0.95h-0.95zM251.6 66.4h0.95v0.95h-0.95zM245.7 70.4h0.95v0.95h-0.95zM244.3 77.5h0.95v0.95h-0.95zM250.8 52.9h0.95v0.95h-0.95zM250.7 70.5h0.95v0.95h-0.95zM253.4 70.9h0.95v0.95h-0.95zM249.6 67.0h0.95v0.95h-0.95zM254.0 45.8h0.95v0.95h-0.95zM255.1 69.2h0.95v0.95h-0.95zM243.8 75.7h0.95v0.95h-0.95zM246.4 78.0h0.95v0.95h-0.95zM250.4 78.4h0.95v0.95h-0.95zM254.6 45.8h0.95v0.95h-0.95zM255.0 58.0h0.95v0.95h-0.95zM243.5 72.6h0.95v0.95h-0.95zM251.9 63.8h0.95v0.95h-0.95zM245.7 72.4h0.95v0.95h-0.95zM246.3 67.4h0.95v0.95h-0.95zM253.0 72.7h0.95v0.95h-0.95zM248.9 69.4h0.95v0.95h-0.95zM239.8 73.4h0.95v0.95h-0.95zM242.5 79.4h0.95v0.95h-0.95zM244.3 77.1h0.95v0.95h-0.95zM253.9 52.8h0.95v0.95h-0.95zM248.9 72.9h0.95v0.95h-0.95zM253.9 74.4h0.95v0.95h-0.95zM242.4 71.6h0.95v0.95h-0.95zM252.6 70.6h0.95v0.95h-0.95zM251.4 65.5h0.95v0.95h-0.95zM246.3 79.3h0.95v0.95h-0.95zM248.5 75.0h0.95v0.95h-0.95zM252.8 45.8h0.95v0.95h-0.95zM253.4 52.2h0.95v0.95h-0.95zM254.8 67.5h0.95v0.95h-0.95zM244.9 77.4h0.95v0.95h-0.95zM244.2 69.8h0.95v0.95h-0.95zM252.5 76.3h0.95v0.95h-0.95zM248.1 76.6h0.95v0.95h-0.95zM250.6 80.5h0.95v0.95h-0.95zM254.2 70.8h0.95v0.95h-0.95zM241.1 77.3h0.95v0.95h-0.95zM253.9 55.5h0.95v0.95h-0.95zM254.3 78.9h0.95v0.95h-0.95zM242.1 79.9h0.95v0.95h-0.95zM253.1 68.2h0.95v0.95h-0.95zM245.5 74.5h0.95v0.95h-0.95zM241.4 80.5h0.95v0.95h-0.95zM253.9 62.5h0.95v0.95h-0.95zM246.6 69.4h0.95v0.95h-0.95zM241.0 76.9h0.95v0.95h-0.95zM249.0 78.5h0.95v0.95h-0.95zM249.7 77.2h0.95v0.95h-0.95zM249.5 65.2h0.95v0.95h-0.95zM240.4 72.0h0.95v0.95h-0.95zM253.0 78.4h0.95v0.95h-0.95zM254.1 71.7h0.95v0.95h-0.95zM253.7 49.7h0.95v0.95h-0.95zM250.1 75.3h0.95v0.95h-0.95zM244.4 64.4h0.95v0.95h-0.95zM254.0 70.2h0.95v0.95h-0.95zM244.8 76.7h0.95v0.95h-0.95zM240.5 78.5h0.95v0.95h-0.95zM253.8 61.6h0.95v0.95h-0.95zM253.1 76.5h0.95v0.95h-0.95zM255.0 68.9h0.95v0.95h-0.95zM254.9 69.7h0.95v0.95h-0.95zM250.1 63.6h0.95v0.95h-0.95zM254.6 72.6h0.95v0.95h-0.95zM250.9 80.3h0.95v0.95h-0.95zM252.6 45.8h0.95v0.95h-0.95zM254.9 62.3h0.95v0.95h-0.95zM255.1 79.7h0.95v0.95h-0.95zM253.9 69.6h0.95v0.95h-0.95zM245.4 77.8h0.95v0.95h-0.95zM252.3 69.7h0.95v0.95h-0.95zM252.3 74.9h0.95v0.95h-0.95zM251.5 73.1h0.95v0.95h-0.95zM252.8 76.6h0.95v0.95h-0.95zM252.6 77.5h0.95v0.95h-0.95zM251.6 80.6h0.95v0.95h-0.95zM252.8 72.4h0.95v0.95h-0.95zM241.0 79.6h0.95v0.95h-0.95zM248.9 74.8h0.95v0.95h-0.95zM240.7 77.3h0.95v0.95h-0.95zM248.2 67.7h0.95v0.95h-0.95zM246.4 70.7h0.95v0.95h-0.95zM250.6 74.3h0.95v0.95h-0.95zM248.8 76.1h0.95v0.95h-0.95zM248.6 74.9h0.95v0.95h-0.95zM243.9 73.7h0.95v0.95h-0.95zM253.9 60.0h0.95v0.95h-0.95zM251.8 80.5h0.95v0.95h-0.95zM241.9 80.4h0.95v0.95h-0.95zM252.6 71.7h0.95v0.95h-0.95zM240.7 78.8h0.95v0.95h-0.95zM248.1 63.9h0.95v0.95h-0.95zM245.7 69.8h0.95v0.95h-0.95zM250.7 75.1h0.95v0.95h-0.95zM242.2 73.2h0.95v0.95h-0.95zM250.5 45.8h0.95v0.95h-0.95zM254.9 63.9h0.95v0.95h-0.95zM238.5 78.1h0.95v0.95h-0.95zM249.0 73.4h0.95v0.95h-0.95zM241.3 77.3h0.95v0.95h-0.95zM239.6 74.0h0.95v0.95h-0.95zM237.2 80.0h0.95v0.95h-0.95zM253.9 80.6h0.95v0.95h-0.95zM246.3 76.2h0.95v0.95h-0.95zM247.1 79.7h0.95v0.95h-0.95zM252.5 54.6h0.95v0.95h-0.95zM248.8 67.4h0.95v0.95h-0.95zM253.9 72.6h0.95v0.95h-0.95zM241.2 74.9h0.95v0.95h-0.95zM253.5 70.3h0.95v0.95h-0.95zM248.2 75.2h0.95v0.95h-0.95zM247.3 76.9h0.95v0.95h-0.95zM255.1 71.4h0.95v0.95h-0.95zM245.5 78.4h0.95v0.95h-0.95zM254.7 78.5h0.95v0.95h-0.95zM252.3 67.4h0.95v0.95h-0.95zM252.0 51.2h0.95v0.95h-0.95zM245.6 79.8h0.95v0.95h-0.95zM242.2 77.9h0.95v0.95h-0.95zM245.8 68.7h0.95v0.95h-0.95zM255.0 80.2h0.95v0.95h-0.95zM254.4 65.8h0.95v0.95h-0.95zM255.1 78.6h0.95v0.95h-0.95zM248.9 79.1h0.95v0.95h-0.95zM253.7 51.2h0.95v0.95h-0.95zM241.9 78.0h0.95v0.95h-0.95zM245.8 78.8h0.95v0.95h-0.95zM241.5 71.8h0.95v0.95h-0.95zM247.0 80.3h0.95v0.95h-0.95zM242.5 76.3h0.95v0.95h-0.95zM244.3 78.0h0.95v0.95h-0.95zM248.6 78.8h0.95v0.95h-0.95zM254.3 48.6h0.95v0.95h-0.95zM239.9 77.7h0.95v0.95h-0.95zM254.9 70.3h0.95v0.95h-0.95zM252.8 78.8h0.95v0.95h-0.95zM241.6 77.6h0.95v0.95h-0.95zM241.4 69.5h0.95v0.95h-0.95zM247.6 70.4h0.95v0.95h-0.95zM244.7 76.2h0.95v0.95h-0.95zM254.9 74.4h0.95v0.95h-0.95zM251.0 74.4h0.95v0.95h-0.95zM255.0 73.7h0.95v0.95h-0.95zM237.3 80.5h0.95v0.95h-0.95zM251.6 76.4h0.95v0.95h-0.95zM246.6 79.3h0.95v0.95h-0.95zM254.3 57.8h0.95v0.95h-0.95zM249.1 74.3h0.95v0.95h-0.95zM249.2 67.2h0.95v0.95h-0.95zM253.5 78.2h0.95v0.95h-0.95zM254.8 68.7h0.95v0.95h-0.95zM255.1 62.1h0.95v0.95h-0.95zM249.1 78.8h0.95v0.95h-0.95zM249.1 63.4h0.95v0.95h-0.95zM245.9 68.0h0.95v0.95h-0.95zM255.0 68.8h0.95v0.95h-0.95zM254.3 64.5h0.95v0.95h-0.95zM255.0 79.1h0.95v0.95h-0.95zM240.0 80.5h0.95v0.95h-0.95zM254.6 76.3h0.95v0.95h-0.95zM240.8 80.3h0.95v0.95h-0.95zM241.8 72.2h0.95v0.95h-0.95zM254.3 80.4h0.95v0.95h-0.95zM253.5 77.6h0.95v0.95h-0.95zM253.3 79.6h0.95v0.95h-0.95zM205.3 80.7h0.95v0.95h-0.95zM212.7 77.7h0.95v0.95h-0.95zM228.9 64.4h0.95v0.95h-0.95zM243.8 20.6h0.95v0.95h-0.95zM246.3 20.6h0.95v0.95h-0.95zM238.6 30.6h0.95v0.95h-0.95zM247.6 44.6h0.95v0.95h-0.95zM250.6 44.6h0.95v0.95h-0.95zM251.6 44.6h0.95v0.95h-0.95zM243.6 48.6h0.95v0.95h-0.95zM246.4 50.0h0.95v0.95h-0.95zM248.2 50.0h0.95v0.95h-0.95zM249.9 49.5h0.95v0.95h-0.95zM251.9 50.0h0.95v0.95h-0.95zM234.6 69.5h0.95v0.95h-0.95zM232.4 76.5h0.95v0.95h-0.95zM242.1 60.2h0.95v0.95h-0.95zM236.8 74.2h0.95v0.95h-0.95zM239.0 66.1h0.95v0.95h-0.95zM240.3 55.6h0.95v0.95h-0.95zM245.6 53.2h0.95v0.95h-0.95z" fill="#2e3192"/>
<path d="M261.8 75.8h0.95v0.95h-0.95zM263.2 73.0h0.95v0.95h-0.95zM261.7 75.6h0.95v0.95h-0.95zM262.0 66.9h0.95v0.95h-0.95zM262.5 69.7h0.95v0.95h-0.95zM261.7 63.6h0.95v0.95h-0.95zM262.6 76.7h0.95v0.95h-0.95zM261.2 54.0h0.95v0.95h-0.95zM262.0 69.9h0.95v0.95h-0.95zM262.4 51.4h0.95v0.95h-0.95zM262.4 72.2h0.95v0.95h-0.95zM262.8 77.5h0.95v0.95h-0.95zM265.3 73.2h0.95v0.95h-0.95zM261.3 70.6h0.95v0.95h-0.95zM264.2 75.1h0.95v0.95h-0.95zM264.0 76.5h0.95v0.95h-0.95zM261.5 73.4h0.95v0.95h-0.95zM263.7 61.1h0.95v0.95h-0.95zM261.8 80.1h0.95v0.95h-0.95zM261.4 59.9h0.95v0.95h-0.95zM262.4 72.7h0.95v0.95h-0.95zM264.7 55.2h0.95v0.95h-0.95zM262.6 67.3h0.95v0.95h-0.95zM267.0 48.1h0.95v0.95h-0.95zM263.5 70.8h0.95v0.95h-0.95zM261.2 73.8h0.95v0.95h-0.95zM262.5 67.2h0.95v0.95h-0.95zM263.8 65.6h0.95v0.95h-0.95zM262.1 64.1h0.95v0.95h-0.95zM262.6 78.7h0.95v0.95h-0.95zM261.7 74.2h0.95v0.95h-0.95zM262.4 56.8h0.95v0.95h-0.95zM261.0 70.8h0.95v0.95h-0.95zM263.4 67.7h0.95v0.95h-0.95zM264.8 71.5h0.95v0.95h-0.95zM263.4 75.6h0.95v0.95h-0.95zM261.0 80.4h0.95v0.95h-0.95zM260.9 79.9h0.95v0.95h-0.95zM262.3 75.9h0.95v0.95h-0.95zM261.1 62.5h0.95v0.95h-0.95zM262.3 62.1h0.95v0.95h-0.95zM263.2 79.1h0.95v0.95h-0.95zM264.9 76.4h0.95v0.95h-0.95zM261.8 68.4h0.95v0.95h-0.95zM262.8 75.4h0.95v0.95h-0.95zM264.1 72.7h0.95v0.95h-0.95zM261.7 61.8h0.95v0.95h-0.95zM264.0 67.8h0.95v0.95h-0.95zM261.2 72.3h0.95v0.95h-0.95zM261.7 75.1h0.95v0.95h-0.95zM261.4 67.8h0.95v0.95h-0.95zM264.0 72.3h0.95v0.95h-0.95zM262.4 63.5h0.95v0.95h-0.95zM261.0 76.4h0.95v0.95h-0.95zM261.2 77.9h0.95v0.95h-0.95zM262.0 57.6h0.95v0.95h-0.95zM263.3 74.2h0.95v0.95h-0.95zM262.5 73.1h0.95v0.95h-0.95zM263.0 66.8h0.95v0.95h-0.95zM261.1 71.6h0.95v0.95h-0.95zM261.1 73.3h0.95v0.95h-0.95zM262.0 66.2h0.95v0.95h-0.95zM263.0 68.7h0.95v0.95h-0.95zM262.6 75.5h0.95v0.95h-0.95zM263.2 66.8h0.95v0.95h-0.95zM265.1 77.2h0.95v0.95h-0.95zM261.9 64.8h0.95v0.95h-0.95zM263.4 68.2h0.95v0.95h-0.95zM261.2 70.3h0.95v0.95h-0.95zM263.7 78.0h0.95v0.95h-0.95zM260.9 78.9h0.95v0.95h-0.95zM261.1 70.8h0.95v0.95h-0.95zM262.4 68.5h0.95v0.95h-0.95zM260.9 76.3h0.95v0.95h-0.95zM263.1 68.9h0.95v0.95h-0.95zM267.2 64.5h0.95v0.95h-0.95zM262.5 77.9h0.95v0.95h-0.95zM261.6 66.1h0.95v0.95h-0.95zM262.8 76.5h0.95v0.95h-0.95zM262.1 67.8h0.95v0.95h-0.95zM262.4 69.0h0.95v0.95h-0.95zM268.9 48.9h0.95v0.95h-0.95zM261.5 68.3h0.95v0.95h-0.95zM262.5 63.8h0.95v0.95h-0.95zM261.8 76.5h0.95v0.95h-0.95zM262.3 65.3h0.95v0.95h-0.95zM263.0 79.6h0.95v0.95h-0.95zM262.7 77.3h0.95v0.95h-0.95zM261.8 74.0h0.95v0.95h-0.95zM261.2 54.1h0.95v0.95h-0.95zM261.0 74.0h0.95v0.95h-0.95zM264.5 63.1h0.95v0.95h-0.95zM261.6 80.7h0.95v0.95h-0.95zM262.1 76.7h0.95v0.95h-0.95zM261.9 64.3h0.95v0.95h-0.95zM262.7 52.3h0.95v0.95h-0.95zM261.9 77.1h0.95v0.95h-0.95zM261.8 79.6h0.95v0.95h-0.95zM261.7 62.6h0.95v0.95h-0.95zM261.9 53.7h0.95v0.95h-0.95zM262.2 78.5h0.95v0.95h-0.95zM261.7 64.0h0.95v0.95h-0.95zM261.2 70.1h0.95v0.95h-0.95zM261.6 73.2h0.95v0.95h-0.95zM261.5 77.6h0.95v0.95h-0.95zM263.7 53.0h0.95v0.95h-0.95zM262.1 72.4h0.95v0.95h-0.95zM265.3 76.2h0.95v0.95h-0.95zM261.4 79.7h0.95v0.95h-0.95zM260.9 73.7h0.95v0.95h-0.95zM262.7 50.7h0.95v0.95h-0.95zM262.1 74.3h0.95v0.95h-0.95zM261.5 70.1h0.95v0.95h-0.95zM264.0 70.4h0.95v0.95h-0.95zM262.7 80.1h0.95v0.95h-0.95zM262.6 63.4h0.95v0.95h-0.95zM263.1 78.7h0.95v0.95h-0.95zM261.5 76.5h0.95v0.95h-0.95zM264.5 69.1h0.95v0.95h-0.95zM261.0 62.3h0.95v0.95h-0.95zM262.4 72.6h0.95v0.95h-0.95zM266.4 65.2h0.95v0.95h-0.95zM261.5 75.4h0.95v0.95h-0.95zM263.5 75.7h0.95v0.95h-0.95zM263.4 64.1h0.95v0.95h-0.95zM263.9 60.4h0.95v0.95h-0.95zM261.3 67.9h0.95v0.95h-0.95zM262.5 73.4h0.95v0.95h-0.95zM262.0 70.4h0.95v0.95h-0.95zM262.4 73.6h0.95v0.95h-0.95zM264.4 65.9h0.95v0.95h-0.95zM263.9 74.8h0.95v0.95h-0.95zM262.6 73.7h0.95v0.95h-0.95zM262.1 74.7h0.95v0.95h-0.95zM261.7 78.4h0.95v0.95h-0.95zM265.5 72.1h0.95v0.95h-0.95zM262.8 76.7h0.95v0.95h-0.95zM261.6 75.5h0.95v0.95h-0.95zM264.6 63.3h0.95v0.95h-0.95zM261.7 72.3h0.95v0.95h-0.95zM262.3 80.2h0.95v0.95h-0.95zM262.3 72.2h0.95v0.95h-0.95zM261.1 72.3h0.95v0.95h-0.95zM262.9 77.3h0.95v0.95h-0.95zM264.1 77.1h0.95v0.95h-0.95zM261.5 62.8h0.95v0.95h-0.95zM262.6 77.1h0.95v0.95h-0.95zM261.8 78.4h0.95v0.95h-0.95zM262.8 60.7h0.95v0.95h-0.95zM261.1 79.0h0.95v0.95h-0.95zM261.8 64.2h0.95v0.95h-0.95zM261.4 79.3h0.95v0.95h-0.95zM261.8 70.2h0.95v0.95h-0.95zM261.2 68.8h0.95v0.95h-0.95zM263.1 58.0h0.95v0.95h-0.95zM261.4 74.8h0.95v0.95h-0.95zM261.7 78.8h0.95v0.95h-0.95zM261.2 75.3h0.95v0.95h-0.95zM262.1 69.7h0.95v0.95h-0.95zM267.0 58.7h0.95v0.95h-0.95zM263.3 56.6h0.95v0.95h-0.95zM262.0 60.0h0.95v0.95h-0.95zM262.8 71.9h0.95v0.95h-0.95zM263.9 77.4h0.95v0.95h-0.95zM263.1 72.1h0.95v0.95h-0.95zM262.3 67.5h0.95v0.95h-0.95zM263.9 76.3h0.95v0.95h-0.95zM262.6 60.3h0.95v0.95h-0.95zM261.7 78.2h0.95v0.95h-0.95zM261.4 78.3h0.95v0.95h-0.95zM265.8 63.5h0.95v0.95h-0.95zM262.9 75.7h0.95v0.95h-0.95zM261.5 64.6h0.95v0.95h-0.95zM264.4 76.7h0.95v0.95h-0.95zM264.6 68.6h0.95v0.95h-0.95zM261.0 80.5h0.95v0.95h-0.95zM261.1 75.3h0.95v0.95h-0.95zM261.4 77.1h0.95v0.95h-0.95zM264.3 78.4h0.95v0.95h-0.95zM262.7 64.8h0.95v0.95h-0.95zM262.3 67.5h0.95v0.95h-0.95zM263.1 76.6h0.95v0.95h-0.95zM263.9 79.9h0.95v0.95h-0.95zM261.6 75.3h0.95v0.95h-0.95zM263.3 75.6h0.95v0.95h-0.95zM261.0 79.9h0.95v0.95h-0.95zM261.2 56.5h0.95v0.95h-0.95zM261.7 75.3h0.95v0.95h-0.95zM266.4 64.6h0.95v0.95h-0.95zM264.1 71.4h0.95v0.95h-0.95zM265.6 68.3h0.95v0.95h-0.95zM261.9 79.1h0.95v0.95h-0.95zM262.2 76.0h0.95v0.95h-0.95zM264.0 58.0h0.95v0.95h-0.95zM261.1 74.1h0.95v0.95h-0.95zM262.1 75.0h0.95v0.95h-0.95zM263.7 68.6h0.95v0.95h-0.95zM263.0 78.5h0.95v0.95h-0.95zM261.5 66.9h0.95v0.95h-0.95zM262.6 71.1h0.95v0.95h-0.95zM263.9 72.8h0.95v0.95h-0.95zM263.3 73.1h0.95v0.95h-0.95zM261.4 78.4h0.95v0.95h-0.95zM262.2 71.6h0.95v0.95h-0.95zM261.0 75.6h0.95v0.95h-0.95zM263.5 53.4h0.95v0.95h-0.95zM261.3 79.1h0.95v0.95h-0.95zM262.7 75.7h0.95v0.95h-0.95zM261.9 78.1h0.95v0.95h-0.95zM263.3 60.1h0.95v0.95h-0.95zM261.8 74.9h0.95v0.95h-0.95zM261.1 79.0h0.95v0.95h-0.95zM262.3 79.9h0.95v0.95h-0.95zM264.4 77.1h0.95v0.95h-0.95zM261.6 73.6h0.95v0.95h-0.95zM264.2 72.0h0.95v0.95h-0.95zM262.6 79.9h0.95v0.95h-0.95zM261.5 69.3h0.95v0.95h-0.95zM261.6 58.3h0.95v0.95h-0.95zM264.5 79.0h0.95v0.95h-0.95zM266.6 57.2h0.95v0.95h-0.95zM269.1 50.9h0.95v0.95h-0.95zM280.1 79.0h0.95v0.95h-0.95zM275.3 78.7h0.95v0.95h-0.95zM264.9 79.5h0.95v0.95h-0.95zM275.1 75.3h0.95v0.95h-0.95zM263.0 70.1h0.95v0.95h-0.95zM270.9 59.5h0.95v0.95h-0.95zM261.6 74.1h0.95v0.95h-0.95zM264.6 77.6h0.95v0.95h-0.95zM277.7 75.7h0.95v0.95h-0.95zM273.8 72.3h0.95v0.95h-0.95zM264.0 80.1h0.95v0.95h-0.95zM264.7 68.5h0.95v0.95h-0.95zM261.7 78.3h0.95v0.95h-0.95zM267.0 80.3h0.95v0.95h-0.95zM266.0 73.4h0.95v0.95h-0.95zM264.3 73.0h0.95v0.95h-0.95zM272.6 80.6h0.95v0.95h-0.95zM268.1 76.9h0.95v0.95h-0.95zM264.2 76.3h0.95v0.95h-0.95zM264.9 80.3h0.95v0.95h-0.95zM262.2 77.5h0.95v0.95h-0.95zM268.3 80.5h0.95v0.95h-0.95zM277.7 80.6h0.95v0.95h-0.95zM267.1 76.6h0.95v0.95h-0.95zM261.4 73.8h0.95v0.95h-0.95zM275.1 79.8h0.95v0.95h-0.95zM267.6 73.2h0.95v0.95h-0.95zM273.5 76.8h0.95v0.95h-0.95zM273.8 74.2h0.95v0.95h-0.95zM272.8 63.9h0.95v0.95h-0.95zM270.0 68.7h0.95v0.95h-0.95zM268.6 75.0h0.95v0.95h-0.95zM268.1 72.7h0.95v0.95h-0.95zM272.4 64.8h0.95v0.95h-0.95zM274.4 80.3h0.95v0.95h-0.95zM269.3 71.8h0.95v0.95h-0.95zM261.5 58.5h0.95v0.95h-0.95zM265.7 74.7h0.95v0.95h-0.95zM262.1 53.1h0.95v0.95h-0.95zM262.4 73.0h0.95v0.95h-0.95zM266.8 67.7h0.95v0.95h-0.95zM264.2 68.4h0.95v0.95h-0.95zM261.3 60.7h0.95v0.95h-0.95zM273.5 78.4h0.95v0.95h-0.95zM270.0 61.1h0.95v0.95h-0.95zM261.9 77.8h0.95v0.95h-0.95zM271.2 69.2h0.95v0.95h-0.95zM279.1 80.2h0.95v0.95h-0.95zM261.5 73.8h0.95v0.95h-0.95zM265.1 74.7h0.95v0.95h-0.95zM277.6 79.7h0.95v0.95h-0.95zM261.9 55.3h0.95v0.95h-0.95zM264.2 75.3h0.95v0.95h-0.95zM262.0 70.4h0.95v0.95h-0.95zM266.6 77.0h0.95v0.95h-0.95zM266.8 74.8h0.95v0.95h-0.95zM276.5 72.3h0.95v0.95h-0.95zM270.3 55.8h0.95v0.95h-0.95zM263.0 64.3h0.95v0.95h-0.95zM267.6 78.1h0.95v0.95h-0.95zM269.3 71.1h0.95v0.95h-0.95zM279.3 76.7h0.95v0.95h-0.95zM261.4 77.3h0.95v0.95h-0.95zM263.5 79.9h0.95v0.95h-0.95zM273.2 68.5h0.95v0.95h-0.95zM263.9 80.4h0.95v0.95h-0.95zM274.7 78.2h0.95v0.95h-0.95zM263.1 59.5h0.95v0.95h-0.95zM279.8 79.7h0.95v0.95h-0.95zM265.9 47.6h0.95v0.95h-0.95zM272.9 74.8h0.95v0.95h-0.95zM267.0 67.2h0.95v0.95h-0.95zM268.9 77.8h0.95v0.95h-0.95zM264.6 70.6h0.95v0.95h-0.95zM262.4 71.2h0.95v0.95h-0.95zM262.1 47.8h0.95v0.95h-0.95zM279.1 78.4h0.95v0.95h-0.95zM269.6 52.8h0.95v0.95h-0.95zM271.9 63.6h0.95v0.95h-0.95zM267.5 64.7h0.95v0.95h-0.95zM273.9 80.0h0.95v0.95h-0.95zM271.8 63.9h0.95v0.95h-0.95zM261.7 80.3h0.95v0.95h-0.95zM266.9 68.5h0.95v0.95h-0.95zM273.0 59.9h0.95v0.95h-0.95zM271.5 75.2h0.95v0.95h-0.95zM270.8 70.6h0.95v0.95h-0.95zM271.0 76.5h0.95v0.95h-0.95zM278.1 80.1h0.95v0.95h-0.95zM272.5 68.8h0.95v0.95h-0.95zM263.2 75.0h0.95v0.95h-0.95zM271.6 75.2h0.95v0.95h-0.95zM262.1 73.3h0.95v0.95h-0.95zM266.7 80.7h0.95v0.95h-0.95zM263.7 78.1h0.95v0.95h-0.95zM266.8 78.4h0.95v0.95h-0.95zM275.0 69.7h0.95v0.95h-0.95zM261.4 70.2h0.95v0.95h-0.95zM267.6 61.9h0.95v0.95h-0.95zM268.9 68.5h0.95v0.95h-0.95zM265.3 76.7h0.95v0.95h-0.95zM272.3 80.1h0.95v0.95h-0.95zM272.7 80.2h0.95v0.95h-0.95zM267.7 58.2h0.95v0.95h-0.95zM273.5 72.1h0.95v0.95h-0.95zM267.6 50.8h0.95v0.95h-0.95zM263.5 45.8h0.95v0.95h-0.95zM271.3 80.6h0.95v0.95h-0.95zM274.5 71.3h0.95v0.95h-0.95zM265.3 71.9h0.95v0.95h-0.95zM276.5 80.7h0.95v0.95h-0.95zM277.3 71.6h0.95v0.95h-0.95zM274.6 72.4h0.95v0.95h-0.95zM275.7 67.0h0.95v0.95h-0.95zM276.4 75.0h0.95v0.95h-0.95zM261.3 76.0h0.95v0.95h-0.95zM265.6 77.1h0.95v0.95h-0.95zM263.1 45.8h0.95v0.95h-0.95zM272.4 77.8h0.95v0.95h-0.95zM265.0 79.8h0.95v0.95h-0.95zM262.3 76.1h0.95v0.95h-0.95zM266.3 72.3h0.95v0.95h-0.95zM264.4 65.7h0.95v0.95h-0.95zM262.0 45.8h0.95v0.95h-0.95zM263.4 73.7h0.95v0.95h-0.95zM265.0 80.6h0.95v0.95h-0.95zM263.4 59.7h0.95v0.95h-0.95zM268.3 74.5h0.95v0.95h-0.95zM269.1 77.9h0.95v0.95h-0.95zM265.8 80.1h0.95v0.95h-0.95zM275.2 77.6h0.95v0.95h-0.95zM270.2 67.1h0.95v0.95h-0.95zM274.9 72.3h0.95v0.95h-0.95zM261.6 68.2h0.95v0.95h-0.95zM274.1 79.4h0.95v0.95h-0.95zM274.4 63.7h0.95v0.95h-0.95zM262.4 66.8h0.95v0.95h-0.95zM270.0 72.9h0.95v0.95h-0.95zM262.3 72.1h0.95v0.95h-0.95zM264.3 48.5h0.95v0.95h-0.95zM279.4 77.8h0.95v0.95h-0.95zM261.8 76.2h0.95v0.95h-0.95zM263.7 70.4h0.95v0.95h-0.95zM264.9 78.5h0.95v0.95h-0.95zM264.6 72.0h0.95v0.95h-0.95zM275.1 70.6h0.95v0.95h-0.95zM266.9 45.8h0.95v0.95h-0.95zM262.9 57.0h0.95v0.95h-0.95zM261.8 64.6h0.95v0.95h-0.95zM261.8 72.6h0.95v0.95h-0.95zM279.3 79.8h0.95v0.95h-0.95zM273.4 79.5h0.95v0.95h-0.95zM261.3 73.8h0.95v0.95h-0.95zM261.6 66.1h0.95v0.95h-0.95zM270.4 60.5h0.95v0.95h-0.95zM266.9 74.4h0.95v0.95h-0.95zM273.2 80.5h0.95v0.95h-0.95zM269.3 80.4h0.95v0.95h-0.95zM267.5 56.6h0.95v0.95h-0.95zM273.5 79.6h0.95v0.95h-0.95zM264.6 69.5h0.95v0.95h-0.95zM268.1 67.0h0.95v0.95h-0.95zM268.6 75.8h0.95v0.95h-0.95zM264.6 77.7h0.95v0.95h-0.95zM264.1 60.3h0.95v0.95h-0.95zM264.9 67.0h0.95v0.95h-0.95zM261.3 78.8h0.95v0.95h-0.95zM266.8 49.9h0.95v0.95h-0.95zM264.4 45.8h0.95v0.95h-0.95zM262.9 80.1h0.95v0.95h-0.95zM271.1 80.3h0.95v0.95h-0.95zM276.6 71.7h0.95v0.95h-0.95zM263.7 77.5h0.95v0.95h-0.95zM262.6 78.4h0.95v0.95h-0.95zM268.6 80.5h0.95v0.95h-0.95zM265.7 75.7h0.95v0.95h-0.95zM263.1 52.6h0.95v0.95h-0.95zM266.9 64.4h0.95v0.95h-0.95zM261.5 79.7h0.95v0.95h-0.95zM274.9 72.0h0.95v0.95h-0.95zM273.2 80.3h0.95v0.95h-0.95zM272.4 78.3h0.95v0.95h-0.95zM269.9 64.1h0.95v0.95h-0.95zM262.7 78.1h0.95v0.95h-0.95zM268.2 48.9h0.95v0.95h-0.95zM265.8 56.8h0.95v0.95h-0.95zM266.1 80.3h0.95v0.95h-0.95zM261.6 58.3h0.95v0.95h-0.95zM261.5 77.5h0.95v0.95h-0.95zM264.2 61.0h0.95v0.95h-0.95zM265.9 79.9h0.95v0.95h-0.95zM267.2 78.6h0.95v0.95h-0.95zM270.4 71.8h0.95v0.95h-0.95zM269.4 79.8h0.95v0.95h-0.95zM267.5 80.2h0.95v0.95h-0.95zM263.5 65.4h0.95v0.95h-0.95zM263.2 64.6h0.95v0.95h-0.95zM274.3 76.1h0.95v0.95h-0.95zM269.9 80.7h0.95v0.95h-0.95zM271.9 73.6h0.95v0.95h-0.95zM266.9 53.2h0.95v0.95h-0.95zM263.3 78.4h0.95v0.95h-0.95zM264.3 74.6h0.95v0.95h-0.95zM261.9 73.2h0.95v0.95h-0.95zM265.9 69.7h0.95v0.95h-0.95zM262.3 80.3h0.95v0.95h-0.95zM269.4 55.2h0.95v0.95h-0.95zM264.6 60.9h0.95v0.95h-0.95zM261.9 45.8h0.95v0.95h-0.95zM275.3 68.7h0.95v0.95h-0.95zM261.3 78.6h0.95v0.95h-0.95zM261.9 79.5h0.95v0.95h-0.95zM268.3 65.6h0.95v0.95h-0.95zM262.2 74.7h0.95v0.95h-0.95zM262.3 71.2h0.95v0.95h-0.95zM270.6 79.4h0.95v0.95h-0.95zM273.1 71.1h0.95v0.95h-0.95zM262.2 64.4h0.95v0.95h-0.95zM262.5 77.4h0.95v0.95h-0.95zM261.4 74.5h0.95v0.95h-0.95zM268.7 61.9h0.95v0.95h-0.95zM266.4 65.3h0.95v0.95h-0.95zM270.0 58.1h0.95v0.95h-0.95zM271.3 64.3h0.95v0.95h-0.95zM265.6 78.5h0.95v0.95h-0.95zM274.7 80.2h0.95v0.95h-0.95zM278.4 74.8h0.95v0.95h-0.95zM267.0 77.6h0.95v0.95h-0.95zM282.6 20.6h0.95v0.95h-0.95zM273.5 34.8h0.95v0.95h-0.95zM267.8 45.6h0.95v0.95h-0.95zM283.5 44.6h0.95v0.95h-0.95zM265.4 49.5h0.95v0.95h-0.95zM266.6 49.0h0.95v0.95h-0.95zM268.0 49.5h0.95v0.95h-0.95zM275.1 49.0h0.95v0.95h-0.95zM282.8 57.9h0.95v0.95h-0.95zM285.0 69.5h0.95v0.95h-0.95zM291.5 73.0h0.95v0.95h-0.95zM287.2 78.9h0.95v0.95h-0.95zM319.1 78.9h0.95v0.95h-0.95zM274.0 60.2h0.95v0.95h-0.95zM278.4 67.2h0.95v0.95h-0.95zM289.4 80.0h0.95v0.95h-0.95zM276.2 74.2h0.95v0.95h-0.95zM271.8 55.6h0.95v0.95h-0.95z" fill="#b5121b"/>
<line x1="201" y1="16.4" x2="201" y2="109" stroke="#222" stroke-width="1.3"/>
<line x1="200.4" y1="108.6" x2="323" y2="108.6" stroke="#222" stroke-width="1.3"/>
<line x1="198.2" y1="34.6" x2="201" y2="34.6" stroke="#222" stroke-width="0.7"/>
<text x="193.5" y="36.6" font-size="5.4" text-anchor="middle" stroke="#333" stroke-width="0.1">3</text>
<line x1="198.2" y1="57.9" x2="201" y2="57.9" stroke="#222" stroke-width="0.7"/>
<text x="193.5" y="59.9" font-size="5.4" text-anchor="middle" stroke="#333" stroke-width="0.1">2</text>
<line x1="198.2" y1="81.2" x2="201" y2="81.2" stroke="#222" stroke-width="0.7"/>
<text x="193.5" y="83.2" font-size="5.4" text-anchor="middle" stroke="#333" stroke-width="0.1">1</text>
<line x1="198.2" y1="104.5" x2="201" y2="104.5" stroke="#222" stroke-width="0.7"/>
<text x="193.5" y="106.5" font-size="5.4" text-anchor="middle" stroke="#333" stroke-width="0.1">0</text>
<line x1="214.9" y1="108.6" x2="214.9" y2="111.2" stroke="#222" stroke-width="0.7"/>
<text x="213.7" y="119.9" font-size="5.4" text-anchor="middle" stroke="#333" stroke-width="0.1">−1.0</text>
<line x1="236.8" y1="108.6" x2="236.8" y2="111.2" stroke="#222" stroke-width="0.7"/>
<text x="235.6" y="119.9" font-size="5.4" text-anchor="middle" stroke="#333" stroke-width="0.1">−0.5</text>
<line x1="258.7" y1="108.6" x2="258.7" y2="111.2" stroke="#222" stroke-width="0.7"/>
<text x="258.7" y="119.9" font-size="5.4" text-anchor="middle" stroke="#333" stroke-width="0.1">0.0</text>
<line x1="280.6" y1="108.6" x2="280.6" y2="111.2" stroke="#222" stroke-width="0.7"/>
<text x="280.6" y="119.9" font-size="5.4" text-anchor="middle" stroke="#333" stroke-width="0.1">0.5</text>
<line x1="302.5" y1="108.6" x2="302.5" y2="111.2" stroke="#222" stroke-width="0.7"/>
<text x="302.5" y="119.9" font-size="5.4" text-anchor="middle" stroke="#333" stroke-width="0.1">1.0</text>
<text x="262" y="130.3" font-size="6.4" text-anchor="middle" textLength="15" lengthAdjust="spacingAndGlyphs" stroke="#333" stroke-width="0.1">logFC</text>
<text x="186.9" y="61.5" font-size="6.3" text-anchor="middle" textLength="43" lengthAdjust="spacingAndGlyphs" transform="rotate(-90 186.9 61.5)" stroke="#333" stroke-width="0.1">-log10(adj.PVal)</text>
<rect x="407.8" y="22.10" width="100.50" height="8.1" fill="#ff0000"/>
<line x1="399.3" y1="26.15" x2="402.5" y2="26.15" stroke="#222" stroke-width="0.7"/>
<text x="396.3" y="27.95" font-size="5.3" text-anchor="end" textLength="46.0" lengthAdjust="spacingAndGlyphs" stroke="#333" stroke-width="0.1">mmu-miR-15a-5p...</text>
<rect x="407.8" y="31.78" width="37.69" height="8.1" fill="#ff0a5a"/>
<line x1="399.3" y1="35.83" x2="402.5" y2="35.83" stroke="#222" stroke-width="0.7"/>
<text x="396.3" y="37.63" font-size="5.3" text-anchor="end" textLength="46.4" lengthAdjust="spacingAndGlyphs" stroke="#333" stroke-width="0.1">mmu-miR-150-5p...</text>
<rect x="407.8" y="41.46" width="52.76" height="8.1" fill="#8400cc"/>
<line x1="399.3" y1="45.51" x2="402.5" y2="45.51" stroke="#222" stroke-width="0.7"/>
<text x="396.3" y="47.31" font-size="5.3" text-anchor="end" textLength="53.5" lengthAdjust="spacingAndGlyphs" stroke="#333" stroke-width="0.1">mmu-miR-133a-3p.2...</text>
<rect x="407.8" y="51.14" width="55.28" height="8.1" fill="#8400cc"/>
<line x1="399.3" y1="55.19" x2="402.5" y2="55.19" stroke="#222" stroke-width="0.7"/>
<text x="396.3" y="56.99" font-size="5.3" text-anchor="end" textLength="46.4" lengthAdjust="spacingAndGlyphs" stroke="#333" stroke-width="0.1">mmu-miR-183-5p.2</text>
<rect x="407.8" y="60.82" width="37.69" height="8.1" fill="#8400cc"/>
<line x1="399.3" y1="64.87" x2="402.5" y2="64.87" stroke="#222" stroke-width="0.7"/>
<text x="396.3" y="66.67" font-size="5.3" text-anchor="end" textLength="41.9" lengthAdjust="spacingAndGlyphs" stroke="#333" stroke-width="0.1">mmu-miR-139-5p</text>
<rect x="407.8" y="70.50" width="25.12" height="8.1" fill="#0000ff"/>
<line x1="399.3" y1="74.55" x2="402.5" y2="74.55" stroke="#222" stroke-width="0.7"/>
<text x="396.3" y="76.35" font-size="5.3" text-anchor="end" textLength="41.9" lengthAdjust="spacingAndGlyphs" stroke="#333" stroke-width="0.1">mmu-miR-202-5p</text>
<rect x="407.8" y="80.18" width="55.28" height="8.1" fill="#0000ff"/>
<line x1="399.3" y1="84.23" x2="402.5" y2="84.23" stroke="#222" stroke-width="0.7"/>
<text x="396.3" y="86.03" font-size="5.3" text-anchor="end" textLength="49.2" lengthAdjust="spacingAndGlyphs" stroke="#333" stroke-width="0.1">mmu-miR-145a-5p...</text>
<rect x="407.8" y="89.86" width="22.61" height="8.1" fill="#0000ff"/>
<line x1="399.3" y1="93.91" x2="402.5" y2="93.91" stroke="#222" stroke-width="0.7"/>
<text x="396.3" y="95.71" font-size="5.3" text-anchor="end" textLength="49.2" lengthAdjust="spacingAndGlyphs" stroke="#333" stroke-width="0.1">mmu-miR-496a-3p.2</text>
<rect x="407.8" y="99.54" width="10.05" height="8.1" fill="#0000ff"/>
<line x1="399.3" y1="103.59" x2="402.5" y2="103.59" stroke="#222" stroke-width="0.7"/>
<text x="396.3" y="105.39" font-size="5.3" text-anchor="end" textLength="46.6" lengthAdjust="spacingAndGlyphs" stroke="#333" stroke-width="0.1">mmu-miR-100-5p...</text>
<line x1="402.5" y1="20.5" x2="402.5" y2="109" stroke="#111" stroke-width="1.2"/>
<line x1="401.9" y1="108.6" x2="513.2" y2="108.6" stroke="#111" stroke-width="1.2"/>
<line x1="407.8" y1="108.6" x2="407.8" y2="111" stroke="#222" stroke-width="0.7"/>
<text x="407.8" y="119.3" font-size="5.6" text-anchor="middle" stroke="#333" stroke-width="0.1">0</text>
<line x1="432.9" y1="108.6" x2="432.9" y2="111" stroke="#222" stroke-width="0.7"/>
<text x="432.9" y="119.3" font-size="5.6" text-anchor="middle" stroke="#333" stroke-width="0.1">10</text>
<line x1="458.0" y1="108.6" x2="458.0" y2="111" stroke="#222" stroke-width="0.7"/>
<text x="458.0" y="119.3" font-size="5.6" text-anchor="middle" stroke="#333" stroke-width="0.1">20</text>
<line x1="483.1" y1="108.6" x2="483.1" y2="111" stroke="#222" stroke-width="0.7"/>
<text x="483.1" y="119.3" font-size="5.6" text-anchor="middle" stroke="#333" stroke-width="0.1">30</text>
<line x1="508.2" y1="108.6" x2="508.2" y2="111" stroke="#222" stroke-width="0.7"/>
<text x="508.2" y="119.3" font-size="5.6" text-anchor="middle" stroke="#333" stroke-width="0.1">40</text>
<text x="458" y="130.6" font-size="8.3" text-anchor="middle" textLength="60.5" lengthAdjust="spacingAndGlyphs" stroke="#333" stroke-width="0.1">Number of interactions</text>
<text x="338.8" y="65.3" font-size="6.6" text-anchor="middle" textLength="28.5" lengthAdjust="spacingAndGlyphs" transform="rotate(-90 338.8 65.3)" stroke="#333" stroke-width="0.1">miR family</text>
<text x="501.3" y="49.6" font-size="4.6" text-anchor="middle" textLength="8.8" lengthAdjust="spacingAndGlyphs">FDR</text>
<rect x="499.4" y="53.2" width="4.7" height="23.3" fill="url(#fdr)"/>
<text x="507" y="59.8" font-size="4.6" textLength="5.6" lengthAdjust="spacingAndGlyphs">0.3</text>
<text x="507" y="66.1" font-size="4.6" textLength="5.6" lengthAdjust="spacingAndGlyphs">0.2</text>
<text x="507" y="72.4" font-size="4.6" textLength="5.6" lengthAdjust="spacingAndGlyphs">0.1</text>
<line x1="407.3" y1="167.8" x2="407.3" y2="260.3" stroke="#111" stroke-width="1.2"/>
<line x1="406.7" y1="259.7" x2="507.4" y2="259.7" stroke="#111" stroke-width="1.2"/>
<line x1="404.8" y1="256.8" x2="407.3" y2="256.8" stroke="#222" stroke-width="0.7"/>
<text x="401.3" y="258.6" font-size="5.2" text-anchor="end" textLength="7.2" lengthAdjust="spacingAndGlyphs" stroke="#333" stroke-width="0.1">0.8</text>
<line x1="404.8" y1="236.0" x2="407.3" y2="236.0" stroke="#222" stroke-width="0.7"/>
<text x="401.3" y="237.8" font-size="5.2" text-anchor="end" textLength="7.2" lengthAdjust="spacingAndGlyphs" stroke="#333" stroke-width="0.1">1.0</text>
<line x1="404.8" y1="215.1" x2="407.3" y2="215.1" stroke="#222" stroke-width="0.7"/>
<text x="401.3" y="216.9" font-size="5.2" text-anchor="end" textLength="7.2" lengthAdjust="spacingAndGlyphs" stroke="#333" stroke-width="0.1">1.2</text>
<line x1="404.8" y1="194.3" x2="407.3" y2="194.3" stroke="#222" stroke-width="0.7"/>
<text x="401.3" y="196.1" font-size="5.2" text-anchor="end" textLength="7.2" lengthAdjust="spacingAndGlyphs" stroke="#333" stroke-width="0.1">1.4</text>
<line x1="404.8" y1="173.4" x2="407.3" y2="173.4" stroke="#222" stroke-width="0.7"/>
<text x="401.3" y="175.2" font-size="5.2" text-anchor="end" textLength="7.2" lengthAdjust="spacingAndGlyphs" stroke="#333" stroke-width="0.1">1.6</text>
<line x1="421.8" y1="259.7" x2="421.8" y2="262.2" stroke="#222" stroke-width="0.7"/>
<text x="421.8" y="270.8" font-size="5.4" text-anchor="middle" textLength="6.6" lengthAdjust="spacingAndGlyphs" stroke="#333" stroke-width="0.1">1.5</text>
<line x1="448.3" y1="259.7" x2="448.3" y2="262.2" stroke="#222" stroke-width="0.7"/>
<text x="448.3" y="270.8" font-size="5.4" text-anchor="middle" textLength="6.6" lengthAdjust="spacingAndGlyphs" stroke="#333" stroke-width="0.1">1.6</text>
<line x1="474.7" y1="259.7" x2="474.7" y2="262.2" stroke="#222" stroke-width="0.7"/>
<text x="474.7" y="270.8" font-size="5.4" text-anchor="middle" textLength="6.6" lengthAdjust="spacingAndGlyphs" stroke="#333" stroke-width="0.1">1.7</text>
<line x1="501.2" y1="259.7" x2="501.2" y2="262.2" stroke="#222" stroke-width="0.7"/>
<text x="501.2" y="270.8" font-size="5.4" text-anchor="middle" textLength="6.6" lengthAdjust="spacingAndGlyphs" stroke="#333" stroke-width="0.1">1.8</text>
<text x="457.3" y="281.6" font-size="7.3" text-anchor="middle" textLength="35.2" lengthAdjust="spacingAndGlyphs" stroke="#333" stroke-width="0.1">Absolute NES</text>
<text x="390.5" y="213.5" font-size="6.4" text-anchor="middle" textLength="47" lengthAdjust="spacingAndGlyphs" transform="rotate(-90 390.5 213.5)" stroke="#333" stroke-width="0.1">-log10(FDR.q.val)</text>
<circle cx="471.5" cy="185.8" r="4.1" fill="#c02848" fill-opacity="0.9"/>
<circle cx="478.8" cy="185.4" r="4.1" fill="#c02848" fill-opacity="0.9"/>
<circle cx="496.2" cy="171.5" r="0.7" fill="#b5002a"/>
<circle cx="496.2" cy="189.7" r="2.2" fill="#b5002a"/>
<circle cx="502.3" cy="205.8" r="4.3" fill="#b5002a"/>
<circle cx="479.7" cy="211.8" r="4.1" fill="#1f3f80"/>
<circle cx="432.2" cy="235.1" r="4.0" fill="#c02848" fill-opacity="0.9"/>
<circle cx="433.3" cy="240.9" r="3.0" fill="#c02848" fill-opacity="0.9"/>
<circle cx="424.5" cy="252" r="4.0" fill="#1f3f80"/>
<circle cx="411.1" cy="255.7" r="4.0" fill="#b5002a"/>
<text x="490.5" y="169.3" font-size="4.3" fill="#555" textLength="22.1" lengthAdjust="spacingAndGlyphs">Myogenesis</text>
<text x="447.4" y="186.2" font-size="4.3" fill="#555" textLength="9.6" lengthAdjust="spacingAndGlyphs">IFNα</text>
<text x="447.4" y="191.6" font-size="4.3" fill="#555" textLength="18" lengthAdjust="spacingAndGlyphs">Response</text>
<text x="484.9" y="183.4" font-size="4.3" fill="#555" textLength="8.2" lengthAdjust="spacingAndGlyphs">EMT</text>
<text x="490" y="197" font-size="4.3" fill="#555" textLength="14.9" lengthAdjust="spacingAndGlyphs">Hypoxia</text>
<text x="457.7" y="214.4" font-size="4.3" fill="#555" textLength="14.9" lengthAdjust="spacingAndGlyphs">OxPhos</text>
<text x="497.7" y="214.4" font-size="4.3" fill="#555" textLength="8.1" lengthAdjust="spacingAndGlyphs">IFNγ</text>
<text x="487.7" y="219.3" font-size="4.3" fill="#555" textLength="18.1" lengthAdjust="spacingAndGlyphs">Response</text>
<text x="409" y="229.9" font-size="4.3" fill="#555" textLength="18.2" lengthAdjust="spacingAndGlyphs">IL2/STAT5</text>
<text x="409" y="235.1" font-size="4.3" fill="#555" textLength="17.3" lengthAdjust="spacingAndGlyphs">Signaling</text>
<text x="437.6" y="240.4" font-size="4.3" fill="#555" textLength="10.4" lengthAdjust="spacingAndGlyphs">KRAS</text>
<text x="437.6" y="245.8" font-size="4.3" fill="#555" textLength="23.3" lengthAdjust="spacingAndGlyphs">Signaling up</text>
<text x="429.5" y="253.2" font-size="4.3" fill="#555" textLength="33.1" lengthAdjust="spacingAndGlyphs">Spermatogenesis</text>
<text x="415.5" y="258.6" font-size="4.3" fill="#555" textLength="19.1" lengthAdjust="spacingAndGlyphs">Apoptosis</text>
<text x="435.75" y="291.1" font-size="6.0" text-anchor="middle" textLength="63.9" lengthAdjust="spacingAndGlyphs" stroke="#333" stroke-width="0.1">Enrichment signal strength</text>
<text x="493.6" y="291.0" font-size="6.0" text-anchor="middle" textLength="21.6" lengthAdjust="spacingAndGlyphs" stroke="#333" stroke-width="0.1">Direction</text>
<circle cx="413.1" cy="298.8" r="1.85" fill="#222"/>
<text x="417.2" y="300.4" font-size="4.6" fill="#444" textLength="5.8" lengthAdjust="spacingAndGlyphs">0.2</text>
<circle cx="429.5" cy="298.8" r="3.1" fill="#222"/>
<text x="435.7" y="300.4" font-size="4.6" fill="#444" textLength="5.8" lengthAdjust="spacingAndGlyphs">0.3</text>
<circle cx="448.5" cy="298.8" r="3.85" fill="#222"/>
<text x="455" y="300.4" font-size="4.6" fill="#444" textLength="5.8" lengthAdjust="spacingAndGlyphs">0.4</text>
<circle cx="478.7" cy="298.7" r="1.7" fill="#1f3f80"/><circle cx="499.4" cy="298.7" r="1.7" fill="#b5002a"/>
<text x="483.6" y="300.4" font-size="4.6" fill="#444" textLength="11" lengthAdjust="spacingAndGlyphs">Down</text>
<text x="504.4" y="300.4" font-size="4.6" fill="#444" textLength="5.4" lengthAdjust="spacingAndGlyphs">Up</text>
<text x="6.8" y="16.4" font-size="11" fill="#000" font-weight="bold">A</text>
<text x="181.3" y="16.4" font-size="11" fill="#000" font-weight="bold">B</text>
<text x="331.6" y="16.5" font-size="11" fill="#000" font-weight="bold">C</text>
<text x="7.3" y="157" font-size="11" fill="#000" font-weight="bold">D</text>
<text x="382.7" y="157.3" font-size="11" fill="#000" font-weight="bold">E</text>
<rect x="0.5" y="0.5" width="518.8" height="316.8" fill="none" stroke="#000" stroke-width="1.2"/>
<rect x="518.6" y="0" width="1.4" height="318" fill="#000"/>
<rect x="0" y="316.6" width="520" height="1.4" fill="#000"/>
</svg></body></html>
